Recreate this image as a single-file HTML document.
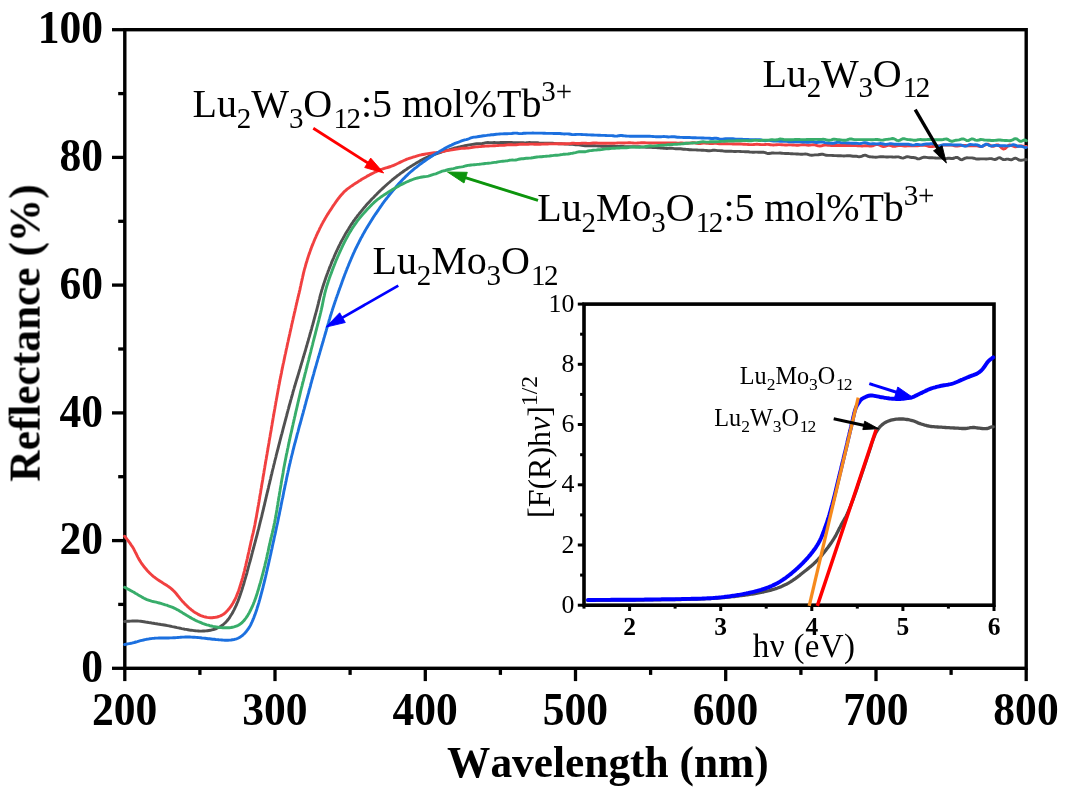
<!DOCTYPE html>
<html lang="en"><head><meta charset="utf-8"><title>Reflectance spectra</title>
<style>html,body{margin:0;padding:0;background:#fff}svg{display:block}text{font-family:"Liberation Serif","Times New Roman",serif;fill:#000;font-kerning:none;font-variant-ligatures:none}.b{font-weight:bold}</style></head><body>
<svg width="1068" height="793" viewBox="0 0 1068 793">
<defs><filter id="soft" x="0" y="0" width="100%" height="100%" filterUnits="userSpaceOnUse"><feGaussianBlur stdDeviation="0.5"/></filter></defs>
<rect width="1068" height="793" fill="#fff"/>
<g filter="url(#soft)">
<g id="axes" stroke="#000" fill="none">
<rect x="124.8" y="29.7" width="901.4" height="638.6" stroke-width="3.4"/>
<line x1="112.0" y1="668.3" x2="124.8" y2="668.3" stroke-width="3.3"/>
<line x1="118.2" y1="604.4" x2="124.8" y2="604.4" stroke-width="3.3"/>
<line x1="112.0" y1="540.6" x2="124.8" y2="540.6" stroke-width="3.3"/>
<line x1="118.2" y1="476.7" x2="124.8" y2="476.7" stroke-width="3.3"/>
<line x1="112.0" y1="412.9" x2="124.8" y2="412.9" stroke-width="3.3"/>
<line x1="118.2" y1="349.0" x2="124.8" y2="349.0" stroke-width="3.3"/>
<line x1="112.0" y1="285.1" x2="124.8" y2="285.1" stroke-width="3.3"/>
<line x1="118.2" y1="221.3" x2="124.8" y2="221.3" stroke-width="3.3"/>
<line x1="112.0" y1="157.4" x2="124.8" y2="157.4" stroke-width="3.3"/>
<line x1="118.2" y1="93.6" x2="124.8" y2="93.6" stroke-width="3.3"/>
<line x1="112.0" y1="29.7" x2="124.8" y2="29.7" stroke-width="3.3"/>
<line x1="124.8" y1="668.3" x2="124.8" y2="681.1" stroke-width="3.3"/>
<line x1="199.9" y1="668.3" x2="199.9" y2="674.9" stroke-width="3.3"/>
<line x1="275.0" y1="668.3" x2="275.0" y2="681.1" stroke-width="3.3"/>
<line x1="350.1" y1="668.3" x2="350.1" y2="674.9" stroke-width="3.3"/>
<line x1="425.3" y1="668.3" x2="425.3" y2="681.1" stroke-width="3.3"/>
<line x1="500.4" y1="668.3" x2="500.4" y2="674.9" stroke-width="3.3"/>
<line x1="575.5" y1="668.3" x2="575.5" y2="681.1" stroke-width="3.3"/>
<line x1="650.6" y1="668.3" x2="650.6" y2="674.9" stroke-width="3.3"/>
<line x1="725.7" y1="668.3" x2="725.7" y2="681.1" stroke-width="3.3"/>
<line x1="800.9" y1="668.3" x2="800.9" y2="674.9" stroke-width="3.3"/>
<line x1="876.0" y1="668.3" x2="876.0" y2="681.1" stroke-width="3.3"/>
<line x1="951.1" y1="668.3" x2="951.1" y2="674.9" stroke-width="3.3"/>
<line x1="1026.2" y1="668.3" x2="1026.2" y2="681.1" stroke-width="3.3"/>
</g>
<g id="curves">
<path d="M124.6,621.5 L126.0,621.4 L127.5,621.3 L129.1,621.2 L130.7,621.1 L132.4,621.0 L134.1,621.0 L135.8,621.0 L137.5,621.0 L139.1,621.1 L140.7,621.3 L142.3,621.5 L143.9,621.7 L145.5,622.0 L147.0,622.2 L148.6,622.5 L150.2,622.7 L151.7,623.0 L153.2,623.2 L154.8,623.5 L156.3,623.7 L157.9,624.0 L159.4,624.2 L161.0,624.5 L162.6,624.7 L164.2,625.0 L165.8,625.3 L167.4,625.6 L169.0,625.9 L170.6,626.2 L172.2,626.6 L173.8,626.9 L175.4,627.2 L177.0,627.6 L178.5,627.9 L180.1,628.2 L181.6,628.6 L183.2,628.9 L184.8,629.2 L186.3,629.4 L187.9,629.7 L189.4,630.0 L191.0,630.2 L192.5,630.4 L194.0,630.6 L195.5,630.8 L197.0,630.9 L198.4,631.0 L199.9,631.1 L201.4,631.1 L202.9,631.0 L204.4,631.0 L205.9,630.9 L207.4,630.7 L208.9,630.5 L210.4,630.3 L211.9,629.9 L213.4,629.5 L214.9,629.0 L216.5,628.5 L218.0,627.8 L219.4,627.0 L220.9,626.2 L222.2,625.3 L223.5,624.3 L224.7,623.2 L225.9,622.1 L226.9,621.0 L227.9,619.8 L228.8,618.6 L229.7,617.3 L230.5,616.0 L231.3,614.8 L232.1,613.5 L232.8,612.2 L233.5,610.9 L234.2,609.6 L234.9,608.2 L235.5,606.8 L236.2,605.4 L236.8,603.9 L237.4,602.5 L238.0,601.1 L238.5,599.7 L239.0,598.3 L239.5,596.9 L240.0,595.5 L240.5,594.0 L241.0,592.6 L241.5,591.1 L242.0,589.6 L242.5,588.0 L242.9,586.5 L243.4,585.0 L243.9,583.5 L244.3,582.0 L244.7,580.5 L245.1,579.1 L245.5,577.8 L245.9,576.4 L246.3,575.0 L246.7,573.7 L247.1,572.3 L247.4,570.9 L247.8,569.5 L248.2,568.0 L248.6,566.5 L249.0,565.0 L249.4,563.4 L249.9,561.9 L250.3,560.3 L250.7,558.8 L251.1,557.3 L251.5,555.9 L251.8,554.5 L252.2,553.1 L252.5,551.8 L252.9,550.5 L253.2,549.3 L253.6,548.0 L253.9,546.6 L254.3,545.3 L254.6,544.0 L255.0,542.6 L255.4,541.2 L255.7,539.8 L256.1,538.3 L256.5,536.8 L256.9,535.3 L257.3,533.8 L257.7,532.2 L258.1,530.6 L258.6,528.9 L259.0,527.2 L259.4,525.5 L259.8,523.9 L260.2,522.2 L260.6,520.7 L261.0,519.2 L261.3,517.7 L261.7,516.4 L262.0,515.0 L262.3,513.7 L262.6,512.4 L263.0,511.0 L263.3,509.7 L263.6,508.3 L263.9,506.9 L264.3,505.5 L264.6,504.1 L264.9,502.6 L265.3,501.2 L265.6,499.7 L266.0,498.2 L266.3,496.7 L266.7,495.2 L267.0,493.7 L267.4,492.2 L267.8,490.7 L268.1,489.1 L268.5,487.6 L268.8,486.0 L269.2,484.5 L269.6,482.9 L269.9,481.4 L270.3,479.8 L270.7,478.3 L271.0,476.7 L271.4,475.2 L271.8,473.6 L272.1,472.1 L272.5,470.5 L272.9,469.0 L273.3,467.5 L273.6,466.0 L274.0,464.5 L274.4,463.0 L274.7,461.5 L275.1,460.0 L275.5,458.5 L275.9,457.0 L276.2,455.5 L276.6,454.0 L277.0,452.4 L277.4,450.9 L277.8,449.4 L278.2,447.8 L278.6,446.2 L279.0,444.7 L279.4,443.1 L279.8,441.5 L280.2,439.9 L280.6,438.4 L281.0,436.8 L281.4,435.2 L281.9,433.6 L282.3,432.1 L282.7,430.5 L283.1,428.9 L283.5,427.4 L283.9,425.8 L284.3,424.3 L284.7,422.8 L285.1,421.3 L285.5,419.8 L285.9,418.3 L286.3,416.9 L286.7,415.4 L287.0,414.0 L287.4,412.6 L287.8,411.2 L288.1,409.9 L288.5,408.6 L288.8,407.3 L289.2,406.0 L289.5,404.7 L289.9,403.4 L290.3,402.0 L290.6,400.6 L291.1,399.1 L291.5,397.5 L292.0,395.8 L292.5,394.1 L292.9,392.4 L293.4,390.7 L293.9,389.1 L294.3,387.5 L294.8,386.1 L295.2,384.6 L295.6,383.3 L296.0,381.9 L296.4,380.6 L296.8,379.3 L297.2,378.0 L297.6,376.7 L298.0,375.4 L298.4,374.1 L298.8,372.7 L299.2,371.3 L299.6,369.9 L300.1,368.4 L300.5,367.0 L300.9,365.5 L301.4,364.0 L301.8,362.5 L302.3,361.0 L302.7,359.5 L303.1,358.0 L303.6,356.5 L304.0,355.0 L304.5,353.5 L304.9,352.0 L305.4,350.5 L305.8,349.0 L306.2,347.5 L306.7,346.0 L307.1,344.5 L307.5,343.0 L308.0,341.5 L308.4,340.0 L308.8,338.4 L309.3,336.9 L309.7,335.4 L310.1,333.8 L310.6,332.2 L311.0,330.7 L311.5,329.1 L311.9,327.5 L312.3,326.0 L312.8,324.4 L313.2,322.9 L313.6,321.4 L314.0,319.8 L314.4,318.4 L314.8,316.9 L315.2,315.4 L315.6,314.0 L316.0,312.5 L316.4,311.1 L316.8,309.6 L317.2,308.0 L317.6,306.5 L318.0,304.9 L318.4,303.3 L318.7,301.8 L319.1,300.3 L319.5,298.8 L319.8,297.4 L320.2,295.9 L320.6,294.5 L321.0,293.0 L321.4,291.6 L321.8,290.1 L322.3,288.7 L322.7,287.2 L323.2,285.8 L323.6,284.3 L324.1,282.9 L324.6,281.4 L325.1,280.0 L325.6,278.5 L326.1,277.1 L326.6,275.6 L327.1,274.2 L327.7,272.7 L328.2,271.3 L328.8,269.8 L329.3,268.4 L329.9,266.9 L330.5,265.5 L331.1,264.0 L331.6,262.6 L332.2,261.1 L332.8,259.7 L333.5,258.3 L334.1,256.8 L334.7,255.4 L335.3,254.0 L335.9,252.6 L336.6,251.2 L337.2,249.8 L337.9,248.4 L338.6,247.0 L339.2,245.6 L340.0,244.1 L340.7,242.7 L341.4,241.3 L342.2,239.9 L343.0,238.5 L343.7,237.1 L344.5,235.7 L345.2,234.4 L346.0,233.0 L346.8,231.7 L347.6,230.4 L348.5,229.0 L349.3,227.6 L350.2,226.3 L351.0,224.9 L351.9,223.6 L352.8,222.3 L353.7,220.9 L354.7,219.6 L355.6,218.3 L356.6,217.1 L357.5,215.8 L358.5,214.6 L359.5,213.3 L360.5,212.1 L361.5,210.9 L362.5,209.7 L363.5,208.4 L364.5,207.2 L365.6,206.0 L366.6,204.8 L367.7,203.6 L368.8,202.4 L369.9,201.2 L371.0,200.0 L372.1,198.8 L373.3,197.7 L374.4,196.5 L375.6,195.3 L376.7,194.2 L377.8,193.0 L379.0,191.9 L380.1,190.8 L381.2,189.7 L382.4,188.6 L383.5,187.6 L384.7,186.5 L385.8,185.5 L386.9,184.5 L388.0,183.5 L389.2,182.5 L390.3,181.5 L391.5,180.5 L392.6,179.5 L393.8,178.6 L395.0,177.6 L396.3,176.7 L397.5,175.7 L398.7,174.8 L400.0,173.8 L401.3,172.9 L402.6,172.0 L403.9,171.0 L405.2,170.1 L406.6,169.2 L407.9,168.3 L409.3,167.4 L410.7,166.5 L412.1,165.6 L413.5,164.7 L414.9,163.9 L416.3,163.0 L417.7,162.2 L419.1,161.4 L420.5,160.6 L422.0,159.8 L423.4,159.1 L424.8,158.4 L426.2,157.7 L427.6,157.1 L429.0,156.4 L430.4,155.6 L431.8,155.3 L433.2,154.8 L434.7,154.3 L436.1,153.8 L437.6,153.3 L439.1,152.9 L440.7,152.3 L442.3,151.6 L443.9,151.0 L445.5,150.5 L447.1,150.2 L448.7,149.9 L450.3,149.4 L451.9,148.9 L453.5,148.5 L455.1,148.0 L456.7,147.6 L458.3,147.2 L459.9,146.8 L461.5,146.4 L463.2,146.1 L464.8,145.8 L466.4,145.5 L467.9,145.2 L469.4,144.9 L470.9,144.6 L472.4,144.4 L473.8,144.2 L475.2,144.0 L476.6,143.8 L478.1,143.6 L479.5,143.6 L480.9,143.6 L482.3,143.5 L483.6,143.3 L485.0,142.9 L486.4,142.6 L487.9,142.5 L489.4,142.6 L490.9,142.6 L492.5,142.6 L494.2,142.5 L495.9,142.6 L497.5,142.6 L499.2,142.6 L500.7,142.5 L502.3,142.5 L503.8,142.4 L505.3,142.5 L506.9,142.5 L508.4,142.5 L510.0,142.5 L511.6,142.5 L513.2,142.6 L514.8,142.6 L516.5,142.7 L518.2,142.6 L519.8,142.6 L521.4,142.7 L523.1,142.8 L524.7,142.9 L526.3,142.8 L527.9,142.6 L529.4,142.5 L531.0,142.6 L532.6,142.6 L534.2,142.6 L535.8,142.6 L537.3,142.7 L538.9,143.0 L540.5,143.2 L542.1,143.2 L543.6,143.1 L545.1,143.1 L546.6,143.1 L548.1,143.2 L549.6,143.2 L551.1,143.3 L552.6,143.3 L554.1,143.4 L555.6,143.5 L557.1,143.6 L558.6,143.7 L560.2,143.7 L561.7,143.8 L563.2,143.9 L564.8,144.0 L566.3,144.1 L567.9,144.1 L569.4,144.2 L571.0,144.3 L572.5,144.4 L574.1,144.6 L575.6,144.7 L577.2,144.7 L578.7,144.7 L580.3,145.0 L581.8,145.3 L583.4,145.6 L585.0,145.7 L586.6,145.6 L588.2,145.7 L589.8,145.7 L591.5,145.8 L593.2,145.8 L594.8,145.8 L596.5,145.9 L598.2,146.0 L599.8,146.1 L601.4,146.2 L602.9,146.2 L604.5,146.3 L605.9,146.3 L607.4,146.4 L608.8,146.4 L610.2,146.3 L611.6,146.2 L613.0,146.2 L614.4,146.3 L615.9,146.4 L617.4,146.4 L618.9,146.4 L620.4,146.3 L621.8,146.3 L623.1,146.4 L624.5,146.6 L625.8,146.6 L627.2,146.6 L628.6,146.6 L630.0,146.6 L631.5,146.7 L633.0,146.8 L634.6,146.7 L636.2,146.6 L637.8,146.6 L639.5,146.7 L641.1,146.9 L642.8,147.1 L644.5,147.1 L646.2,147.2 L647.9,147.3 L649.6,147.4 L651.2,147.4 L652.9,147.5 L654.5,147.5 L656.1,147.6 L657.7,147.7 L659.2,147.9 L660.8,148.0 L662.3,148.1 L663.8,148.2 L665.3,148.4 L666.9,148.5 L668.4,148.4 L669.9,148.3 L671.4,148.2 L672.9,148.4 L674.4,148.6 L675.9,148.8 L677.4,148.8 L678.9,148.7 L680.5,148.8 L682.0,149.0 L683.5,149.2 L685.0,149.3 L686.5,149.4 L688.0,149.5 L689.5,149.7 L691.0,149.8 L692.6,149.9 L694.1,149.9 L695.6,149.9 L697.1,150.0 L698.6,150.1 L700.2,150.1 L701.7,150.2 L703.3,150.3 L704.9,150.4 L706.5,150.5 L708.1,150.7 L709.7,150.7 L711.3,150.6 L712.9,150.3 L714.5,150.3 L716.1,150.4 L717.7,150.6 L719.3,150.6 L720.9,150.7 L722.5,150.8 L724.0,151.1 L725.6,151.3 L727.1,151.3 L728.5,151.2 L730.0,151.1 L731.4,151.2 L732.8,151.4 L734.2,151.5 L735.7,151.5 L737.1,151.4 L738.7,151.4 L740.3,151.5 L741.9,151.6 L743.5,151.6 L745.1,151.7 L746.7,151.7 L748.2,151.8 L749.7,152.0 L751.2,152.1 L752.6,152.2 L754.0,152.2 L755.4,152.1 L756.9,152.1 L758.3,152.2 L759.8,152.2 L761.2,152.2 L762.5,152.2 L763.9,152.3 L765.2,152.7 L766.5,153.2 L767.8,153.5 L769.1,153.5 L770.5,153.3 L771.9,153.0 L773.4,153.0 L774.9,153.1 L776.5,153.1 L778.2,153.1 L780.0,153.0 L781.8,153.2 L783.5,153.4 L785.2,153.5 L786.8,153.5 L788.3,153.5 L789.7,153.6 L791.0,153.7 L792.4,153.8 L793.7,153.9 L795.1,153.9 L796.5,154.0 L797.9,154.0 L799.3,154.1 L800.8,154.2 L802.3,154.2 L803.8,154.1 L805.3,154.0 L806.9,154.1 L808.5,154.6 L810.1,155.1 L811.7,155.2 L813.3,155.1 L814.9,154.9 L816.5,154.9 L818.2,154.8 L819.8,154.5 L821.5,154.2 L823.1,154.3 L824.8,154.8 L826.4,155.3 L828.0,155.4 L829.7,155.4 L831.3,155.4 L832.9,155.5 L834.5,155.6 L836.1,155.6 L837.7,155.7 L839.3,155.7 L840.8,155.8 L842.4,155.9 L843.9,156.0 L845.4,155.9 L846.9,155.8 L848.5,155.7 L850.0,155.8 L851.5,156.0 L853.0,156.2 L854.5,156.2 L856.1,156.2 L857.6,156.5 L859.1,156.7 L860.6,156.6 L862.1,156.1 L863.6,155.4 L865.1,155.2 L866.7,155.7 L868.2,156.4 L869.7,156.8 L871.2,156.9 L872.7,157.0 L874.2,157.1 L875.8,157.2 L877.3,157.1 L878.8,156.9 L880.3,156.7 L881.8,156.7 L883.3,156.8 L884.8,156.9 L886.4,157.0 L887.9,157.0 L889.4,156.9 L890.9,156.9 L892.4,157.0 L893.9,157.1 L895.5,157.0 L897.0,156.9 L898.5,156.9 L900.0,157.3 L901.5,157.9 L903.0,158.1 L904.5,157.7 L905.9,157.0 L907.4,156.7 L908.9,156.9 L910.3,157.3 L911.8,157.5 L913.3,157.5 L914.7,157.7 L916.2,158.2 L917.6,158.8 L919.1,158.9 L920.5,158.4 L922.0,157.7 L923.4,157.3 L924.9,157.2 L926.4,157.4 L927.9,157.6 L929.3,157.7 L930.8,157.7 L932.3,157.8 L933.8,157.9 L935.4,158.0 L936.9,158.1 L938.4,158.0 L940.0,157.9 L941.6,158.0 L943.2,158.3 L944.8,158.7 L946.4,158.6 L948.0,158.3 L949.6,158.2 L951.2,158.5 L952.8,158.5 L954.4,158.0 L956.0,157.4 L957.5,157.5 L959.1,158.5 L960.6,159.6 L962.1,159.7 L963.7,158.9 L965.3,158.1 L967.0,157.8 L968.6,157.9 L970.3,157.9 L972.0,157.9 L973.7,158.2 L975.4,158.7 L977.2,159.0 L979.0,159.0 L980.7,158.9 L982.5,158.9 L984.3,158.9 L986.1,159.0 L987.8,158.9 L989.6,158.6 L991.4,158.6 L993.1,159.1 L994.9,159.5 L996.6,159.0 L998.3,157.9 L1000.0,157.7 L1001.7,158.7 L1003.4,159.6 L1005.0,159.6 L1006.6,159.1 L1008.2,159.1 L1009.7,159.6 L1011.2,159.8 L1012.6,159.3 L1014.1,158.5 L1015.4,158.2 L1016.8,158.6 L1018.0,159.4 L1019.3,160.1 L1020.4,160.3 L1021.5,160.3 L1022.6,160.1 L1023.6,159.9 L1024.6,159.8 L1025.5,159.8 L1026.4,159.8" fill="none" stroke="#515151" stroke-width="2.9" stroke-linejoin="round" stroke-linecap="round"/>
<path d="M124.6,536.2 L125.4,537.3 L126.3,538.3 L127.2,539.5 L128.1,540.7 L129.1,542.0 L130.1,543.4 L131.0,544.8 L132.0,546.2 L132.9,547.5 L133.7,548.9 L134.4,550.3 L135.1,551.7 L135.8,553.0 L136.5,554.4 L137.1,555.8 L137.8,557.1 L138.6,558.5 L139.3,559.9 L140.2,561.2 L141.0,562.5 L141.9,563.8 L142.9,565.2 L143.9,566.5 L144.9,567.7 L146.0,569.0 L147.0,570.2 L148.1,571.4 L149.2,572.6 L150.4,573.7 L151.5,574.8 L152.7,575.9 L153.9,576.9 L155.2,577.8 L156.4,578.7 L157.7,579.6 L159.0,580.5 L160.2,581.3 L161.5,582.1 L162.8,582.9 L164.0,583.7 L165.3,584.5 L166.6,585.3 L167.8,586.1 L169.1,587.0 L170.3,587.9 L171.5,588.9 L172.6,589.9 L173.8,591.0 L174.8,592.1 L175.9,593.3 L176.9,594.5 L177.9,595.8 L179.0,597.1 L180.0,598.4 L181.0,599.6 L182.1,600.9 L183.2,602.1 L184.3,603.3 L185.4,604.4 L186.6,605.5 L187.7,606.6 L188.9,607.7 L190.0,608.7 L191.2,609.7 L192.5,610.6 L193.7,611.6 L195.0,612.5 L196.4,613.3 L197.8,614.1 L199.3,614.9 L200.8,615.6 L202.3,616.1 L203.8,616.6 L205.4,617.0 L207.1,617.4 L208.7,617.6 L210.4,617.7 L212.1,617.7 L213.8,617.5 L215.5,617.3 L217.1,617.0 L218.8,616.5 L220.4,615.9 L222.0,615.1 L223.4,614.2 L224.8,613.2 L226.1,612.1 L227.3,610.8 L228.4,609.5 L229.5,608.2 L230.5,606.8 L231.5,605.5 L232.4,604.1 L233.2,602.7 L234.0,601.2 L234.8,599.8 L235.5,598.3 L236.2,596.8 L236.8,595.3 L237.4,593.8 L238.0,592.3 L238.6,590.7 L239.1,589.2 L239.6,587.6 L240.1,586.0 L240.6,584.4 L241.1,582.8 L241.6,581.2 L242.0,579.7 L242.5,578.1 L242.9,576.6 L243.3,575.1 L243.7,573.6 L244.1,572.1 L244.5,570.6 L244.8,569.1 L245.2,567.5 L245.6,566.0 L245.9,564.5 L246.3,562.9 L246.7,561.4 L247.0,559.8 L247.4,558.3 L247.7,556.7 L248.1,555.2 L248.4,553.6 L248.8,552.0 L249.1,550.5 L249.5,548.9 L249.8,547.3 L250.2,545.7 L250.5,544.2 L250.8,542.7 L251.1,541.3 L251.5,539.9 L251.8,538.6 L252.0,537.4 L252.3,536.2 L252.6,535.0 L252.9,533.8 L253.2,532.6 L253.5,531.2 L253.8,529.8 L254.2,528.2 L254.5,526.5 L254.9,524.8 L255.2,523.0 L255.5,521.3 L255.8,519.7 L256.1,518.2 L256.4,516.9 L256.6,515.5 L256.8,514.3 L257.0,513.0 L257.3,511.7 L257.5,510.4 L257.7,509.0 L258.0,507.6 L258.2,506.2 L258.5,504.8 L258.7,503.3 L259.0,501.8 L259.2,500.3 L259.5,498.7 L259.7,497.2 L260.0,495.6 L260.3,494.0 L260.6,492.4 L260.8,490.8 L261.1,489.1 L261.4,487.5 L261.6,485.9 L261.9,484.2 L262.2,482.6 L262.5,480.9 L262.8,479.2 L263.0,477.6 L263.3,475.9 L263.6,474.3 L263.9,472.7 L264.1,471.0 L264.4,469.4 L264.7,467.8 L264.9,466.2 L265.2,464.7 L265.5,463.1 L265.7,461.6 L266.0,460.0 L266.3,458.5 L266.5,456.9 L266.8,455.4 L267.1,453.8 L267.3,452.3 L267.6,450.7 L267.9,449.1 L268.1,447.5 L268.4,445.9 L268.7,444.3 L269.0,442.7 L269.2,441.0 L269.5,439.4 L269.8,437.8 L270.1,436.2 L270.3,434.6 L270.6,433.0 L270.9,431.4 L271.2,429.8 L271.4,428.2 L271.7,426.6 L272.0,425.0 L272.2,423.4 L272.5,421.9 L272.8,420.4 L273.0,418.8 L273.3,417.3 L273.5,415.9 L273.8,414.4 L274.0,413.0 L274.3,411.6 L274.5,410.2 L274.8,408.8 L275.0,407.5 L275.2,406.1 L275.5,404.8 L275.7,403.5 L275.9,402.1 L276.2,400.7 L276.5,399.1 L276.8,397.5 L277.1,395.8 L277.4,394.1 L277.7,392.4 L278.0,390.7 L278.3,389.1 L278.6,387.5 L278.8,386.1 L279.1,384.6 L279.4,383.3 L279.6,381.9 L279.9,380.6 L280.1,379.3 L280.4,378.0 L280.7,376.7 L280.9,375.4 L281.2,374.1 L281.5,372.7 L281.7,371.3 L282.0,369.9 L282.3,368.4 L282.6,367.0 L282.9,365.5 L283.2,364.0 L283.6,362.5 L283.9,361.0 L284.2,359.5 L284.5,358.0 L284.8,356.5 L285.1,355.0 L285.5,353.5 L285.8,352.0 L286.1,350.5 L286.4,349.0 L286.8,347.5 L287.1,346.0 L287.4,344.5 L287.7,343.0 L288.1,341.5 L288.4,340.0 L288.7,338.4 L289.1,336.9 L289.4,335.4 L289.8,333.8 L290.1,332.2 L290.5,330.7 L290.8,329.1 L291.2,327.5 L291.5,326.0 L291.8,324.4 L292.2,322.9 L292.5,321.4 L292.9,319.8 L293.2,318.4 L293.5,316.9 L293.9,315.4 L294.2,314.0 L294.5,312.5 L294.9,311.1 L295.2,309.6 L295.6,308.0 L295.9,306.5 L296.3,304.9 L296.6,303.4 L297.0,301.9 L297.3,300.4 L297.7,298.9 L298.0,297.4 L298.4,296.0 L298.7,294.5 L299.1,293.1 L299.4,291.6 L299.8,290.1 L300.1,288.6 L300.4,287.0 L300.8,285.5 L301.1,284.0 L301.4,282.5 L301.8,280.9 L302.1,279.4 L302.5,277.8 L302.8,276.3 L303.2,274.7 L303.5,273.1 L303.9,271.6 L304.3,270.0 L304.7,268.5 L305.2,266.9 L305.6,265.4 L306.0,263.8 L306.5,262.3 L307.0,260.7 L307.4,259.2 L307.9,257.7 L308.4,256.1 L308.9,254.6 L309.5,253.1 L310.0,251.6 L310.5,250.1 L311.1,248.6 L311.6,247.1 L312.2,245.6 L312.8,244.1 L313.4,242.7 L314.0,241.2 L314.6,239.7 L315.2,238.3 L315.9,236.8 L316.5,235.4 L317.2,233.9 L317.8,232.5 L318.5,231.2 L319.2,229.8 L319.8,228.4 L320.5,227.1 L321.2,225.7 L321.9,224.3 L322.7,222.9 L323.4,221.5 L324.2,220.2 L325.0,218.8 L325.8,217.4 L326.6,216.1 L327.4,214.7 L328.3,213.4 L329.1,212.1 L330.0,210.7 L330.9,209.4 L331.8,208.0 L332.6,206.7 L333.5,205.4 L334.5,204.0 L335.4,202.7 L336.3,201.3 L337.3,200.0 L338.2,198.7 L339.2,197.5 L340.2,196.2 L341.2,195.0 L342.2,193.9 L343.3,192.7 L344.3,191.6 L345.5,190.6 L346.6,189.6 L347.8,188.7 L349.0,187.8 L350.2,186.9 L351.4,186.1 L352.7,185.2 L353.9,184.4 L355.2,183.5 L356.5,182.7 L357.8,181.9 L359.1,181.0 L360.5,180.2 L361.8,179.3 L363.2,178.5 L364.6,177.7 L366.0,176.9 L367.3,176.1 L368.7,175.4 L370.1,174.6 L371.5,173.9 L372.9,173.2 L374.3,172.5 L375.7,171.8 L377.1,171.2 L378.5,170.6 L379.9,170.0 L381.4,169.5 L382.9,168.9 L384.4,168.4 L386.0,167.9 L387.5,167.5 L389.1,167.0 L390.7,166.5 L392.2,165.9 L393.7,165.3 L395.2,164.7 L396.6,164.0 L398.1,163.3 L399.5,162.6 L400.9,161.9 L402.4,161.2 L403.9,160.5 L405.4,159.9 L407.0,159.2 L408.5,158.7 L410.1,158.1 L411.7,157.6 L413.3,157.0 L414.9,156.6 L416.5,156.1 L418.1,155.6 L419.7,155.2 L421.4,154.8 L423.0,154.5 L424.6,154.2 L426.2,153.9 L427.8,153.6 L429.4,153.4 L431.0,153.2 L432.6,153.0 L434.2,152.8 L435.8,152.6 L437.4,152.4 L439.0,152.2 L440.6,151.9 L442.2,151.6 L443.9,151.3 L445.5,150.9 L447.1,150.6 L448.7,150.4 L450.3,150.1 L451.9,149.9 L453.5,149.6 L455.1,149.3 L456.7,149.1 L458.3,148.9 L459.9,148.6 L461.6,148.4 L463.2,148.3 L464.8,148.2 L466.4,148.1 L468.0,148.1 L469.6,147.9 L471.2,147.6 L472.8,147.3 L474.4,147.1 L476.1,146.9 L477.7,146.8 L479.3,146.6 L480.9,146.5 L482.4,146.3 L483.9,146.2 L485.4,146.1 L487.0,146.0 L488.5,146.0 L490.1,145.9 L491.7,145.9 L493.3,145.8 L494.9,145.7 L496.5,145.6 L498.1,145.5 L499.6,145.4 L501.2,145.4 L502.7,145.4 L504.2,145.3 L505.7,145.1 L507.2,144.9 L508.7,144.7 L510.3,144.7 L511.8,144.8 L513.3,144.9 L514.8,144.9 L516.3,144.8 L517.8,144.6 L519.3,144.4 L520.8,144.2 L522.3,144.2 L523.8,144.3 L525.4,144.4 L526.9,144.4 L528.4,144.2 L529.9,144.1 L531.4,144.1 L532.9,144.1 L534.4,144.2 L536.0,144.2 L537.5,144.3 L538.9,144.2 L540.4,144.2 L541.9,144.1 L543.4,144.1 L544.8,144.0 L546.3,144.0 L547.7,144.0 L549.2,143.9 L550.7,143.9 L552.2,143.9 L553.7,143.9 L555.3,143.8 L556.8,143.8 L558.4,143.8 L559.9,143.7 L561.4,143.7 L562.9,143.7 L564.4,143.8 L565.9,143.8 L567.5,143.7 L569.0,143.6 L570.6,143.5 L572.2,143.3 L573.8,143.3 L575.4,143.4 L577.0,143.5 L578.6,143.5 L580.2,143.4 L581.7,143.2 L583.3,143.1 L584.9,143.1 L586.6,143.3 L588.2,143.4 L589.8,143.4 L591.5,143.2 L593.2,143.0 L594.8,142.9 L596.5,143.0 L598.2,143.1 L599.8,143.2 L601.4,143.2 L602.9,143.2 L604.5,143.2 L605.9,143.2 L607.4,143.2 L608.8,143.2 L610.2,143.2 L611.6,143.2 L613.0,143.2 L614.4,143.2 L615.9,143.1 L617.4,143.0 L618.9,142.9 L620.4,142.9 L621.8,142.9 L623.1,143.0 L624.5,143.0 L625.8,142.9 L627.2,142.9 L628.6,142.8 L630.0,142.8 L631.5,142.9 L633.0,143.0 L634.6,143.1 L636.2,143.1 L637.8,143.0 L639.5,142.9 L641.1,142.8 L642.8,142.8 L644.5,142.8 L646.2,142.9 L647.9,142.9 L649.6,143.0 L651.2,143.0 L652.9,143.0 L654.5,143.0 L656.1,142.9 L657.7,142.9 L659.2,142.9 L660.8,142.9 L662.3,142.9 L663.8,142.9 L665.3,142.9 L666.9,142.9 L668.4,142.9 L669.9,142.9 L671.4,142.9 L672.9,143.0 L674.4,143.0 L675.9,143.0 L677.4,143.1 L678.9,143.1 L680.5,143.0 L682.0,143.0 L683.5,143.1 L685.0,143.2 L686.5,143.3 L688.0,143.2 L689.5,143.1 L691.0,142.9 L692.6,142.7 L694.1,142.7 L695.6,143.0 L697.1,143.3 L698.6,143.5 L700.2,143.5 L701.7,143.3 L703.3,143.1 L704.9,143.0 L706.5,143.2 L708.1,143.4 L709.7,143.6 L711.3,143.6 L712.9,143.5 L714.5,143.4 L716.1,143.4 L717.7,143.5 L719.3,143.7 L720.9,143.8 L722.5,143.9 L724.0,143.8 L725.6,143.8 L727.1,143.8 L728.5,143.9 L730.0,143.9 L731.4,143.9 L732.8,144.0 L734.2,144.0 L735.7,144.0 L737.1,144.0 L738.7,144.0 L740.3,144.0 L741.9,144.1 L743.5,144.2 L745.1,144.3 L746.7,144.4 L748.2,144.5 L749.7,144.6 L751.2,144.6 L752.6,144.6 L754.0,144.5 L755.4,144.4 L756.9,144.3 L758.3,144.4 L759.8,144.5 L761.2,144.6 L762.5,144.6 L763.9,144.6 L765.2,144.5 L766.5,144.4 L767.8,144.4 L769.1,144.5 L770.5,144.7 L771.9,144.9 L773.4,145.0 L774.9,144.9 L776.5,144.7 L778.2,144.6 L780.0,144.6 L781.8,144.7 L783.5,144.9 L785.2,145.0 L786.8,145.0 L788.3,144.9 L789.7,144.9 L791.0,144.9 L792.4,145.0 L793.7,145.0 L795.1,145.1 L796.5,145.2 L797.9,145.2 L799.3,145.1 L800.8,144.9 L802.3,144.8 L803.8,144.7 L805.3,144.9 L806.9,145.1 L808.5,145.2 L810.1,145.1 L811.7,144.9 L813.3,144.8 L814.9,144.9 L816.5,145.4 L818.2,145.9 L819.8,146.0 L821.5,145.9 L823.1,145.4 L824.8,145.1 L826.4,145.0 L828.0,145.2 L829.7,145.4 L831.3,145.6 L832.9,145.5 L834.5,145.5 L836.1,145.4 L837.7,145.5 L839.3,145.5 L840.8,145.5 L842.4,145.5 L843.9,145.5 L845.4,145.5 L846.9,145.5 L848.5,145.5 L850.0,145.5 L851.5,145.5 L853.0,145.5 L854.5,145.5 L856.1,145.6 L857.6,145.7 L859.1,145.8 L860.6,145.9 L862.1,146.0 L863.6,145.9 L865.1,145.8 L866.7,145.7 L868.2,145.8 L869.7,146.0 L871.2,146.0 L872.7,145.8 L874.2,145.2 L875.8,144.6 L877.3,144.4 L878.8,144.8 L880.3,145.5 L881.8,146.2 L883.3,146.6 L884.8,146.3 L886.4,145.8 L887.9,145.3 L889.4,145.3 L890.9,145.7 L892.4,146.2 L893.9,146.4 L895.5,146.2 L897.0,145.8 L898.5,145.5 L900.0,145.5 L901.5,145.6 L903.0,145.8 L904.5,146.0 L905.9,146.0 L907.4,145.9 L908.9,145.8 L910.3,145.7 L911.8,145.7 L913.3,145.7 L914.7,145.7 L916.2,145.7 L917.6,145.7 L919.1,145.6 L920.5,145.4 L922.0,145.2 L923.4,145.1 L924.9,145.3 L926.4,145.7 L927.9,146.1 L929.3,146.5 L930.8,146.6 L932.3,146.5 L933.8,146.3 L935.4,146.2 L936.9,146.0 L938.4,145.9 L940.0,145.7 L941.6,145.4 L943.2,145.1 L944.8,145.1 L946.4,145.1 L948.0,145.1 L949.6,145.1 L951.2,145.1 L952.8,145.4 L954.4,145.7 L956.0,146.0 L957.5,146.0 L959.1,145.9 L960.6,145.6 L962.1,145.4 L963.7,145.4 L965.3,145.5 L967.0,145.7 L968.6,145.8 L970.3,145.8 L972.0,145.8 L973.7,145.7 L975.4,145.7 L977.2,145.9 L979.0,146.2 L980.7,146.5 L982.5,146.2 L984.3,145.4 L986.1,144.4 L987.8,144.2 L989.6,145.0 L991.4,146.0 L993.1,146.4 L994.9,145.8 L996.6,144.9 L998.3,145.0 L1000.0,146.3 L1001.7,148.1 L1003.4,149.1 L1005.0,148.6 L1006.6,147.1 L1008.2,145.6 L1009.7,144.9 L1011.2,145.2 L1012.6,145.9 L1014.1,146.5 L1015.4,146.7 L1016.8,146.5 L1018.0,146.2 L1019.3,146.0 L1020.4,145.9 L1021.5,146.0 L1022.6,146.2 L1023.6,146.3 L1024.6,146.5 L1025.5,146.5 L1026.4,146.5" fill="none" stroke="#F14040" stroke-width="2.9" stroke-linejoin="round" stroke-linecap="round"/>
<path d="M124.6,644.5 L126.2,644.2 L127.8,643.9 L129.5,643.6 L131.1,643.3 L132.7,642.9 L134.3,642.5 L135.9,642.0 L137.4,641.6 L139.0,641.1 L140.5,640.7 L142.0,640.3 L143.5,640.0 L145.0,639.6 L146.5,639.3 L148.0,639.1 L149.5,638.8 L151.1,638.6 L152.7,638.4 L154.2,638.3 L155.8,638.1 L157.4,638.1 L159.0,638.0 L160.6,638.0 L162.2,638.0 L163.9,638.0 L165.5,638.0 L167.1,638.0 L168.7,638.0 L170.2,637.9 L171.8,637.9 L173.4,637.8 L174.9,637.7 L176.4,637.6 L177.9,637.5 L179.5,637.4 L180.9,637.2 L182.4,637.1 L183.9,637.1 L185.4,637.0 L186.9,637.0 L188.4,637.0 L189.9,637.0 L191.4,637.1 L193.0,637.2 L194.5,637.3 L196.0,637.4 L197.5,637.5 L199.0,637.6 L200.5,637.8 L202.0,638.0 L203.5,638.1 L205.0,638.3 L206.6,638.5 L208.1,638.7 L209.6,638.8 L211.1,639.0 L212.7,639.2 L214.2,639.3 L215.7,639.5 L217.3,639.6 L218.8,639.8 L220.4,639.9 L221.9,640.0 L223.4,640.1 L224.9,640.2 L226.5,640.2 L228.0,640.2 L229.5,640.1 L231.0,640.0 L232.5,639.8 L233.9,639.6 L235.3,639.2 L236.7,638.8 L238.0,638.2 L239.4,637.5 L240.7,636.7 L241.9,635.8 L243.1,634.8 L244.3,633.7 L245.4,632.5 L246.5,631.2 L247.5,629.9 L248.4,628.6 L249.3,627.2 L250.1,625.9 L250.8,624.6 L251.4,623.2 L252.1,621.8 L252.7,620.4 L253.3,618.9 L253.9,617.5 L254.4,616.0 L255.0,614.6 L255.5,613.1 L256.0,611.7 L256.5,610.2 L257.0,608.7 L257.4,607.2 L257.9,605.7 L258.4,604.1 L258.9,602.6 L259.3,601.0 L259.8,599.4 L260.2,597.9 L260.6,596.3 L261.0,594.8 L261.4,593.4 L261.8,591.9 L262.2,590.4 L262.6,588.9 L263.0,587.4 L263.3,585.9 L263.7,584.3 L264.1,582.8 L264.5,581.2 L264.9,579.7 L265.2,578.1 L265.6,576.6 L265.9,575.1 L266.3,573.6 L266.6,572.1 L267.0,570.7 L267.3,569.3 L267.6,567.8 L267.9,566.4 L268.3,565.0 L268.6,563.5 L268.9,562.1 L269.2,560.6 L269.6,559.1 L269.9,557.6 L270.2,556.1 L270.6,554.6 L270.9,553.1 L271.2,551.6 L271.5,550.2 L271.9,548.8 L272.2,547.4 L272.4,546.1 L272.7,544.8 L273.0,543.5 L273.3,542.2 L273.6,540.9 L273.9,539.6 L274.1,538.3 L274.4,537.0 L274.7,535.6 L275.1,534.1 L275.4,532.6 L275.7,531.1 L276.1,529.4 L276.4,527.7 L276.8,526.0 L277.2,524.2 L277.6,522.5 L277.9,520.9 L278.2,519.4 L278.5,517.9 L278.8,516.5 L279.1,515.2 L279.4,513.9 L279.6,512.5 L279.9,511.2 L280.2,509.8 L280.5,508.4 L280.8,507.0 L281.0,505.6 L281.3,504.1 L281.6,502.7 L281.9,501.2 L282.2,499.6 L282.6,498.1 L282.9,496.6 L283.2,495.0 L283.5,493.4 L283.8,491.8 L284.1,490.3 L284.5,488.7 L284.8,487.0 L285.1,485.4 L285.5,483.8 L285.8,482.2 L286.2,480.6 L286.5,479.0 L286.8,477.3 L287.2,475.7 L287.5,474.1 L287.9,472.5 L288.2,470.9 L288.6,469.3 L288.9,467.7 L289.3,466.2 L289.6,464.6 L290.0,463.1 L290.3,461.6 L290.7,460.0 L291.1,458.5 L291.4,457.0 L291.8,455.5 L292.2,454.0 L292.6,452.4 L292.9,450.9 L293.3,449.4 L293.7,447.8 L294.1,446.2 L294.5,444.7 L294.9,443.1 L295.4,441.5 L295.8,439.9 L296.2,438.4 L296.6,436.8 L297.0,435.2 L297.4,433.6 L297.9,432.1 L298.3,430.5 L298.7,428.9 L299.1,427.4 L299.5,425.8 L300.0,424.3 L300.4,422.8 L300.8,421.3 L301.2,419.8 L301.6,418.3 L302.0,416.9 L302.4,415.4 L302.8,414.0 L303.2,412.6 L303.5,411.2 L303.9,409.9 L304.3,408.6 L304.6,407.3 L305.0,406.0 L305.3,404.7 L305.7,403.4 L306.0,402.0 L306.4,400.6 L306.8,399.1 L307.3,397.5 L307.7,395.8 L308.2,394.1 L308.7,392.4 L309.1,390.7 L309.5,389.1 L310.0,387.5 L310.4,386.1 L310.7,384.6 L311.1,383.3 L311.5,381.9 L311.8,380.6 L312.2,379.3 L312.6,378.0 L312.9,376.7 L313.3,375.4 L313.7,374.1 L314.0,372.7 L314.4,371.3 L314.8,369.9 L315.2,368.4 L315.7,367.0 L316.1,365.5 L316.5,364.0 L316.9,362.5 L317.4,361.0 L317.8,359.5 L318.2,358.0 L318.7,356.5 L319.1,355.0 L319.6,353.5 L320.0,352.0 L320.4,350.5 L320.9,349.0 L321.3,347.5 L321.7,346.0 L322.2,344.5 L322.6,343.0 L323.1,341.5 L323.5,340.0 L323.9,338.4 L324.4,336.9 L324.8,335.4 L325.3,333.8 L325.7,332.2 L326.2,330.7 L326.6,329.1 L327.1,327.5 L327.6,326.0 L328.0,324.4 L328.5,322.9 L328.9,321.4 L329.3,319.8 L329.8,318.4 L330.2,316.9 L330.6,315.4 L331.1,314.0 L331.5,312.6 L332.0,311.1 L332.4,309.7 L332.9,308.2 L333.4,306.7 L333.9,305.2 L334.4,303.7 L334.9,302.2 L335.4,300.8 L335.9,299.4 L336.3,298.0 L336.8,296.7 L337.3,295.3 L337.8,294.0 L338.3,292.6 L338.7,291.3 L339.2,289.9 L339.7,288.5 L340.3,287.0 L340.8,285.6 L341.3,284.2 L341.8,282.7 L342.3,281.3 L342.8,279.9 L343.3,278.5 L343.9,277.1 L344.4,275.6 L344.9,274.2 L345.5,272.8 L346.0,271.4 L346.6,270.0 L347.1,268.6 L347.7,267.2 L348.3,265.8 L348.8,264.4 L349.4,263.0 L350.0,261.6 L350.6,260.2 L351.2,258.8 L351.8,257.4 L352.4,256.0 L353.0,254.6 L353.6,253.2 L354.3,251.8 L354.9,250.4 L355.6,248.9 L356.3,247.5 L357.0,246.1 L357.7,244.7 L358.4,243.3 L359.1,241.9 L359.8,240.5 L360.5,239.1 L361.2,237.7 L362.0,236.4 L362.7,235.0 L363.5,233.6 L364.3,232.2 L365.1,230.8 L365.9,229.4 L366.7,228.0 L367.6,226.6 L368.4,225.2 L369.2,223.9 L370.1,222.5 L370.9,221.2 L371.8,219.8 L372.7,218.4 L373.5,217.1 L374.4,215.7 L375.3,214.3 L376.3,213.0 L377.2,211.6 L378.1,210.3 L379.0,209.0 L379.9,207.7 L380.8,206.4 L381.6,205.2 L382.5,203.9 L383.4,202.7 L384.2,201.5 L385.1,200.4 L386.0,199.2 L387.0,198.0 L387.9,196.8 L388.9,195.5 L389.9,194.3 L390.9,193.1 L391.9,191.9 L392.9,190.6 L394.0,189.4 L395.1,188.1 L396.1,186.8 L397.2,185.6 L398.3,184.3 L399.4,183.1 L400.5,181.9 L401.6,180.7 L402.7,179.5 L403.9,178.4 L405.0,177.2 L406.1,176.1 L407.2,175.1 L408.3,174.0 L409.4,173.0 L410.5,172.0 L411.6,171.1 L412.8,170.1 L413.9,169.2 L415.1,168.2 L416.3,167.3 L417.5,166.3 L418.7,165.4 L419.9,164.4 L421.2,163.5 L422.5,162.6 L423.7,161.7 L425.0,160.8 L426.4,159.8 L427.7,158.9 L429.1,158.0 L430.4,157.0 L431.8,156.2 L433.2,155.3 L434.6,154.4 L436.0,153.5 L437.4,152.7 L438.8,151.9 L440.2,151.0 L441.6,150.3 L443.1,149.4 L444.5,148.6 L445.9,147.8 L447.3,147.0 L448.7,146.3 L450.1,145.7 L451.5,145.1 L452.9,144.4 L454.3,143.7 L455.7,143.1 L457.2,142.6 L458.6,142.1 L460.1,141.5 L461.6,140.9 L463.2,140.4 L464.7,139.9 L466.3,139.6 L467.9,139.1 L469.5,138.5 L471.0,137.8 L472.6,137.4 L474.1,137.1 L475.7,137.0 L477.3,136.8 L478.9,136.5 L480.5,136.3 L482.0,136.0 L483.6,135.8 L485.2,135.6 L486.7,135.4 L488.3,135.1 L489.8,135.0 L491.4,134.8 L493.0,134.7 L494.7,134.5 L496.3,134.3 L497.9,134.1 L499.5,134.0 L501.0,133.9 L502.6,133.9 L504.1,133.8 L505.6,133.8 L507.1,133.7 L508.6,133.6 L510.1,133.6 L511.7,133.5 L513.2,133.3 L514.7,133.1 L516.2,133.1 L517.8,133.3 L519.3,133.6 L520.8,133.6 L522.3,133.5 L523.8,133.3 L525.4,133.2 L526.9,133.1 L528.4,133.1 L529.9,133.1 L531.4,133.1 L532.9,133.0 L534.4,133.1 L536.0,133.1 L537.5,133.1 L538.9,133.1 L540.4,133.1 L541.9,133.1 L543.4,133.2 L544.8,133.3 L546.3,133.4 L547.7,133.4 L549.2,133.4 L550.7,133.4 L552.2,133.4 L553.7,133.5 L555.3,133.5 L556.8,133.5 L558.4,133.5 L559.9,133.5 L561.4,133.7 L562.9,133.9 L564.4,134.0 L565.9,133.9 L567.5,133.9 L569.0,134.0 L570.6,134.3 L572.2,134.6 L573.8,134.6 L575.4,134.5 L577.0,134.4 L578.6,134.4 L580.2,134.4 L581.7,134.5 L583.3,134.6 L584.9,134.6 L586.6,134.7 L588.2,134.9 L589.8,134.9 L591.5,135.0 L593.2,135.0 L594.8,135.1 L596.5,135.1 L598.2,135.2 L599.8,135.3 L601.4,135.4 L602.9,135.4 L604.5,135.4 L605.9,135.5 L607.4,135.6 L608.8,135.6 L610.2,135.6 L611.6,135.6 L613.0,135.8 L614.4,136.0 L615.9,136.1 L617.4,136.0 L618.9,135.7 L620.4,135.5 L621.8,135.5 L623.1,135.7 L624.5,135.9 L625.8,136.0 L627.2,136.1 L628.6,136.1 L630.0,136.2 L631.5,136.2 L633.0,136.2 L634.6,136.2 L636.2,136.2 L637.8,136.2 L639.5,136.2 L641.1,136.3 L642.8,136.3 L644.5,136.3 L646.2,136.3 L647.9,136.3 L649.6,136.3 L651.2,136.4 L652.9,136.5 L654.5,136.6 L656.1,136.7 L657.7,136.8 L659.2,136.8 L660.8,136.8 L662.3,136.6 L663.8,136.5 L665.3,136.6 L666.9,136.8 L668.4,137.0 L669.9,136.9 L671.4,136.8 L672.9,136.7 L674.4,136.8 L675.9,137.0 L677.4,137.2 L678.9,137.3 L680.5,137.4 L682.0,137.4 L683.5,137.5 L685.0,137.5 L686.5,137.5 L688.0,137.5 L689.5,137.5 L691.0,137.6 L692.6,137.7 L694.1,137.8 L695.6,137.8 L697.1,137.9 L698.6,137.9 L700.2,137.9 L701.7,138.0 L703.3,138.0 L704.9,138.1 L706.5,138.1 L708.1,138.1 L709.7,138.3 L711.3,138.5 L712.9,138.5 L714.5,138.3 L716.1,138.3 L717.7,138.5 L719.3,138.9 L720.9,139.2 L722.5,139.1 L724.0,138.9 L725.6,138.7 L727.1,138.7 L728.5,138.7 L730.0,138.7 L731.4,138.6 L732.8,138.7 L734.2,138.9 L735.7,139.1 L737.1,139.3 L738.7,139.3 L740.3,139.3 L741.9,139.3 L743.5,139.4 L745.1,139.4 L746.7,139.5 L748.2,139.5 L749.7,139.6 L751.2,139.6 L752.6,139.6 L754.0,139.6 L755.4,139.6 L756.9,139.6 L758.3,139.6 L759.8,139.7 L761.2,139.9 L762.5,140.3 L763.9,140.6 L765.2,140.7 L766.5,140.6 L767.8,140.4 L769.1,140.4 L770.5,140.5 L771.9,140.8 L773.4,141.0 L774.9,141.0 L776.5,140.9 L778.2,141.0 L780.0,141.2 L781.8,141.2 L783.5,141.2 L785.2,141.2 L786.8,141.4 L788.3,141.7 L789.7,141.8 L791.0,141.8 L792.4,141.7 L793.7,141.7 L795.1,141.7 L796.5,141.8 L797.9,141.8 L799.3,141.9 L800.8,141.9 L802.3,142.0 L803.8,142.1 L805.3,142.1 L806.9,142.2 L808.5,142.2 L810.1,142.1 L811.7,141.9 L813.3,141.9 L814.9,142.2 L816.5,142.5 L818.2,142.3 L819.8,142.0 L821.5,141.8 L823.1,142.1 L824.8,142.6 L826.4,142.9 L828.0,143.0 L829.7,143.1 L831.3,143.3 L832.9,143.3 L834.5,143.0 L836.1,142.6 L837.7,142.3 L839.3,142.4 L840.8,142.7 L842.4,142.9 L843.9,142.9 L845.4,142.9 L846.9,143.0 L848.5,143.0 L850.0,143.1 L851.5,143.2 L853.0,143.2 L854.5,143.3 L856.1,143.3 L857.6,143.4 L859.1,143.6 L860.6,143.5 L862.1,143.2 L863.6,142.8 L865.1,142.7 L866.7,143.0 L868.2,143.5 L869.7,143.9 L871.2,143.9 L872.7,143.7 L874.2,143.7 L875.8,143.9 L877.3,144.0 L878.8,143.8 L880.3,143.5 L881.8,143.6 L883.3,144.0 L884.8,144.4 L886.4,144.4 L887.9,144.1 L889.4,143.8 L890.9,143.7 L892.4,143.9 L893.9,144.2 L895.5,144.3 L897.0,144.3 L898.5,144.2 L900.0,144.2 L901.5,144.2 L903.0,144.2 L904.5,144.2 L905.9,144.2 L907.4,144.1 L908.9,144.3 L910.3,144.6 L911.8,145.0 L913.3,145.1 L914.7,144.9 L916.2,144.5 L917.6,144.4 L919.1,144.6 L920.5,144.9 L922.0,144.9 L923.4,144.5 L924.9,144.1 L926.4,143.9 L927.9,144.0 L929.3,144.0 L930.8,143.8 L932.3,143.6 L933.8,143.9 L935.4,144.8 L936.9,145.8 L938.4,146.3 L940.0,145.9 L941.6,145.2 L943.2,144.8 L944.8,144.7 L946.4,144.8 L948.0,144.8 L949.6,144.8 L951.2,144.8 L952.8,144.9 L954.4,145.0 L956.0,145.0 L957.5,145.0 L959.1,144.9 L960.6,144.9 L962.1,145.3 L963.7,145.9 L965.3,146.2 L967.0,145.8 L968.6,145.0 L970.3,144.5 L972.0,144.6 L973.7,144.9 L975.4,144.8 L977.2,144.9 L979.0,145.7 L980.7,146.5 L982.5,146.3 L984.3,145.0 L986.1,144.1 L987.8,144.6 L989.6,145.7 L991.4,146.1 L993.1,145.7 L994.9,145.4 L996.6,145.4 L998.3,145.6 L1000.0,145.7 L1001.7,145.7 L1003.4,145.7 L1005.0,145.8 L1006.6,145.9 L1008.2,145.9 L1009.7,145.7 L1011.2,145.3 L1012.6,144.8 L1014.1,144.8 L1015.4,145.2 L1016.8,145.8 L1018.0,146.3 L1019.3,146.3 L1020.4,146.3 L1021.5,146.3 L1022.6,146.6 L1023.6,147.0 L1024.6,147.4 L1025.5,147.6 L1026.4,147.4" fill="none" stroke="#1A6FDF" stroke-width="2.9" stroke-linejoin="round" stroke-linecap="round"/>
<path d="M124.6,587.3 L125.8,587.9 L127.0,588.6 L128.2,589.2 L129.6,589.9 L131.0,590.7 L132.4,591.5 L133.9,592.3 L135.3,593.2 L136.8,594.0 L138.2,594.9 L139.6,595.7 L141.1,596.6 L142.5,597.4 L144.0,598.2 L145.4,598.9 L146.9,599.6 L148.4,600.1 L150.0,600.6 L151.5,601.1 L153.1,601.5 L154.6,601.8 L156.2,602.2 L157.7,602.6 L159.3,603.0 L160.8,603.4 L162.3,603.9 L163.8,604.3 L165.3,604.8 L166.8,605.2 L168.3,605.8 L169.8,606.3 L171.2,606.8 L172.7,607.4 L174.2,608.1 L175.6,608.8 L177.1,609.6 L178.5,610.3 L179.9,611.2 L181.3,612.0 L182.7,612.9 L184.1,613.7 L185.4,614.6 L186.8,615.4 L188.2,616.3 L189.6,617.1 L191.1,617.9 L192.5,618.7 L193.9,619.4 L195.3,620.2 L196.7,620.9 L198.1,621.5 L199.6,622.1 L201.0,622.7 L202.4,623.3 L203.9,623.8 L205.3,624.3 L206.8,624.8 L208.3,625.2 L209.8,625.7 L211.4,626.0 L213.0,626.4 L214.6,626.7 L216.2,627.0 L217.8,627.3 L219.5,627.5 L221.1,627.6 L222.8,627.7 L224.4,627.8 L226.1,627.8 L227.7,627.8 L229.3,627.7 L230.9,627.5 L232.5,627.2 L234.0,626.9 L235.5,626.4 L237.0,625.9 L238.3,625.2 L239.6,624.4 L240.9,623.6 L242.0,622.6 L243.1,621.5 L244.2,620.4 L245.1,619.2 L246.0,618.0 L246.9,616.7 L247.7,615.4 L248.5,614.1 L249.3,612.7 L250.0,611.3 L250.8,609.8 L251.4,608.4 L252.1,607.0 L252.7,605.6 L253.3,604.2 L253.8,602.8 L254.4,601.5 L254.9,600.1 L255.4,598.7 L255.9,597.2 L256.4,595.7 L256.9,594.2 L257.4,592.7 L257.8,591.2 L258.3,589.8 L258.7,588.3 L259.1,586.9 L259.5,585.5 L259.9,584.1 L260.4,582.7 L260.8,581.2 L261.2,579.7 L261.6,578.2 L262.0,576.7 L262.4,575.2 L262.8,573.6 L263.2,572.1 L263.6,570.5 L264.0,568.9 L264.4,567.4 L264.8,565.8 L265.1,564.3 L265.5,562.7 L265.9,561.1 L266.3,559.6 L266.6,558.0 L267.0,556.3 L267.3,554.7 L267.7,553.1 L268.1,551.5 L268.4,549.9 L268.7,548.3 L269.1,546.7 L269.4,545.2 L269.8,543.7 L270.1,542.2 L270.4,540.8 L270.7,539.4 L271.0,538.0 L271.4,536.6 L271.7,535.4 L272.0,534.2 L272.3,533.0 L272.5,531.8 L272.8,530.6 L273.1,529.3 L273.5,527.9 L273.8,526.4 L274.1,524.7 L274.5,523.0 L274.8,521.4 L275.1,519.8 L275.4,518.3 L275.6,517.0 L275.9,515.7 L276.1,514.4 L276.3,513.1 L276.5,511.9 L276.7,510.6 L277.0,509.2 L277.2,507.8 L277.4,506.4 L277.7,505.0 L277.9,503.5 L278.1,502.0 L278.4,500.5 L278.6,498.9 L278.9,497.4 L279.2,495.8 L279.4,494.2 L279.7,492.6 L280.0,490.9 L280.2,489.3 L280.5,487.7 L280.8,486.0 L281.1,484.3 L281.3,482.7 L281.6,481.0 L281.9,479.3 L282.2,477.7 L282.5,476.0 L282.8,474.4 L283.1,472.7 L283.3,471.1 L283.6,469.5 L283.9,467.8 L284.2,466.3 L284.5,464.7 L284.8,463.1 L285.1,461.6 L285.4,460.0 L285.7,458.5 L286.0,456.9 L286.3,455.4 L286.6,453.8 L287.0,452.3 L287.3,450.7 L287.6,449.1 L288.0,447.5 L288.3,445.9 L288.6,444.3 L289.0,442.7 L289.3,441.0 L289.7,439.4 L290.0,437.8 L290.4,436.2 L290.7,434.6 L291.1,433.0 L291.5,431.4 L291.8,429.8 L292.2,428.2 L292.5,426.6 L292.9,425.0 L293.2,423.4 L293.6,421.9 L293.9,420.4 L294.3,418.8 L294.6,417.3 L295.0,415.9 L295.3,414.4 L295.6,413.0 L295.9,411.6 L296.3,410.2 L296.6,408.8 L296.9,407.5 L297.2,406.1 L297.5,404.8 L297.8,403.5 L298.1,402.1 L298.5,400.7 L298.8,399.1 L299.2,397.5 L299.6,395.8 L300.0,394.1 L300.4,392.4 L300.8,390.7 L301.2,389.1 L301.6,387.5 L302.0,386.1 L302.3,384.6 L302.7,383.3 L303.0,381.9 L303.4,380.6 L303.7,379.3 L304.0,378.0 L304.4,376.7 L304.7,375.4 L305.0,374.1 L305.4,372.7 L305.8,371.3 L306.1,369.9 L306.5,368.4 L306.9,367.0 L307.2,365.5 L307.6,364.0 L308.0,362.5 L308.4,361.0 L308.8,359.5 L309.1,358.0 L309.5,356.5 L309.9,355.0 L310.3,353.5 L310.7,352.0 L311.0,350.5 L311.4,349.0 L311.8,347.5 L312.2,346.0 L312.6,344.5 L312.9,343.0 L313.3,341.5 L313.7,340.0 L314.1,338.4 L314.5,336.9 L314.9,335.4 L315.3,333.8 L315.7,332.2 L316.1,330.7 L316.5,329.1 L316.9,327.5 L317.3,326.0 L317.7,324.4 L318.1,322.9 L318.5,321.4 L318.9,319.8 L319.2,318.4 L319.6,316.9 L320.0,315.4 L320.3,314.0 L320.7,312.5 L321.0,311.1 L321.4,309.5 L321.7,308.0 L322.1,306.4 L322.4,304.8 L322.7,303.3 L323.0,301.7 L323.3,300.2 L323.6,298.7 L323.9,297.3 L324.3,295.8 L324.6,294.4 L324.9,292.9 L325.3,291.5 L325.7,290.0 L326.1,288.6 L326.5,287.1 L326.9,285.7 L327.4,284.2 L327.9,282.8 L328.3,281.3 L328.8,279.9 L329.3,278.4 L329.8,277.0 L330.3,275.5 L330.9,274.1 L331.4,272.7 L331.9,271.3 L332.4,269.9 L333.0,268.4 L333.5,267.0 L334.1,265.6 L334.6,264.2 L335.2,262.8 L335.7,261.4 L336.3,260.0 L336.9,258.6 L337.5,257.2 L338.1,255.8 L338.7,254.5 L339.3,253.1 L340.0,251.7 L340.6,250.2 L341.3,248.8 L341.9,247.4 L342.6,246.0 L343.3,244.5 L344.0,243.1 L344.7,241.7 L345.4,240.3 L346.2,238.9 L346.9,237.5 L347.6,236.2 L348.4,234.8 L349.2,233.4 L350.0,232.0 L350.9,230.6 L351.7,229.2 L352.6,227.8 L353.5,226.5 L354.4,225.1 L355.3,223.8 L356.3,222.5 L357.2,221.2 L358.2,219.9 L359.2,218.6 L360.3,217.3 L361.3,216.1 L362.4,214.8 L363.5,213.6 L364.5,212.4 L365.6,211.2 L366.7,210.0 L367.8,208.8 L368.9,207.7 L370.0,206.5 L371.1,205.4 L372.2,204.3 L373.3,203.2 L374.4,202.1 L375.6,201.1 L376.8,200.1 L378.0,199.2 L379.2,198.3 L380.4,197.4 L381.7,196.5 L383.0,195.6 L384.3,194.7 L385.6,193.9 L387.0,193.0 L388.3,192.1 L389.7,191.3 L391.1,190.4 L392.5,189.6 L393.9,188.8 L395.3,188.0 L396.7,187.1 L398.1,186.4 L399.5,185.6 L400.9,184.8 L402.3,184.1 L403.7,183.4 L405.1,182.7 L406.6,182.0 L408.1,181.4 L409.6,180.7 L411.1,180.1 L412.7,179.5 L414.3,178.9 L415.9,178.4 L417.5,178.0 L419.1,177.6 L420.7,177.3 L422.2,177.0 L423.8,176.8 L425.3,176.6 L426.8,176.4 L428.3,176.1 L429.8,175.7 L431.3,175.1 L432.8,174.6 L434.3,174.2 L435.8,173.8 L437.4,173.2 L439.0,172.5 L440.6,171.8 L442.2,171.2 L443.8,170.8 L445.4,170.5 L447.0,170.0 L448.7,169.5 L450.3,169.2 L451.9,168.9 L453.5,168.6 L455.1,168.2 L456.7,167.7 L458.3,167.4 L459.9,167.1 L461.6,166.9 L463.2,166.6 L464.8,166.1 L466.4,165.7 L468.0,165.4 L469.5,165.2 L471.1,165.0 L472.7,164.9 L474.2,164.7 L475.9,164.6 L477.5,164.4 L479.1,164.3 L480.6,164.1 L482.2,163.9 L483.7,163.7 L485.1,163.5 L486.6,163.4 L488.2,163.2 L489.7,163.1 L491.3,162.9 L492.9,162.6 L494.6,162.4 L496.3,162.2 L497.9,161.9 L499.6,161.6 L501.3,161.4 L502.9,161.2 L504.5,161.1 L506.1,160.9 L507.7,160.7 L509.3,160.3 L510.8,160.1 L512.4,160.0 L513.9,160.1 L515.4,160.0 L517.0,159.7 L518.5,159.3 L520.1,159.0 L521.6,158.8 L523.2,158.7 L524.7,158.5 L526.2,158.3 L527.8,158.2 L529.3,158.1 L530.9,158.0 L532.4,157.8 L533.9,157.5 L535.5,157.2 L537.0,157.0 L538.6,156.9 L540.1,156.8 L541.6,156.7 L543.2,156.5 L544.7,156.4 L546.3,156.2 L547.8,156.1 L549.3,156.0 L550.9,155.8 L552.4,155.6 L554.0,155.4 L555.5,155.3 L557.1,155.2 L558.6,155.1 L560.1,154.8 L561.7,154.6 L563.2,154.3 L564.8,154.2 L566.3,154.1 L567.9,154.0 L569.4,153.8 L571.0,153.4 L572.5,153.2 L574.1,152.9 L575.6,152.6 L577.2,152.2 L578.7,151.8 L580.3,151.6 L581.8,151.7 L583.4,151.8 L585.0,151.7 L586.6,151.4 L588.2,151.0 L589.8,150.6 L591.5,150.5 L593.2,150.3 L594.8,150.1 L596.5,150.0 L598.2,149.8 L599.8,149.7 L601.4,149.6 L602.9,149.3 L604.5,149.1 L605.9,148.9 L607.4,148.8 L608.8,148.7 L610.3,148.5 L611.8,148.4 L613.3,148.3 L614.8,148.2 L616.3,148.1 L617.8,148.0 L619.3,148.0 L620.8,147.9 L622.3,147.8 L623.7,147.8 L625.2,147.7 L626.6,147.7 L628.2,147.6 L629.7,147.4 L631.3,147.1 L632.9,147.0 L634.6,147.0 L636.3,147.3 L637.9,147.4 L639.6,147.3 L641.3,147.1 L642.9,146.9 L644.5,146.8 L646.1,146.5 L647.7,146.2 L649.3,146.0 L650.8,146.0 L652.4,146.1 L653.9,146.1 L655.4,145.9 L657.0,145.7 L658.5,145.5 L660.1,145.4 L661.6,145.3 L663.2,145.2 L664.7,145.1 L666.2,145.0 L667.8,144.8 L669.3,144.7 L670.9,144.6 L672.4,144.5 L673.9,144.4 L675.5,144.3 L677.0,144.2 L678.6,144.1 L680.1,144.0 L681.6,143.9 L683.2,143.7 L684.7,143.5 L686.3,143.3 L687.8,143.2 L689.4,143.1 L690.9,143.1 L692.4,143.0 L694.0,142.9 L695.5,142.9 L697.0,142.8 L698.6,142.5 L700.1,142.2 L701.6,141.9 L703.1,141.8 L704.5,141.9 L706.0,142.1 L707.5,142.1 L709.0,142.0 L710.4,141.8 L711.9,141.7 L713.5,141.8 L715.0,141.8 L716.5,141.8 L718.1,141.6 L719.7,141.5 L721.3,141.4 L722.9,141.4 L724.5,141.3 L726.0,141.1 L727.6,141.0 L729.1,141.0 L730.6,141.0 L732.1,141.0 L733.6,141.0 L735.2,140.9 L736.8,140.8 L738.4,140.8 L740.0,140.7 L741.6,140.7 L743.2,140.6 L744.8,140.6 L746.4,140.6 L748.0,140.7 L749.6,140.7 L751.1,140.7 L752.7,140.5 L754.2,140.4 L755.7,140.3 L757.2,140.4 L758.7,140.5 L760.2,140.5 L761.7,140.3 L763.1,140.2 L764.5,140.2 L765.9,140.2 L767.3,140.2 L768.6,140.1 L769.9,139.9 L771.3,139.8 L772.6,139.8 L774.0,139.9 L775.4,140.0 L777.0,139.8 L778.6,139.4 L780.2,139.0 L781.9,139.1 L783.6,139.5 L785.3,139.7 L786.8,139.8 L788.3,139.8 L789.7,139.7 L791.0,139.7 L792.4,139.7 L793.7,139.6 L795.1,139.5 L796.5,139.5 L797.9,139.5 L799.3,139.5 L800.8,139.6 L802.3,139.6 L803.8,139.6 L805.3,139.6 L806.9,139.5 L808.5,139.5 L810.1,139.5 L811.7,139.5 L813.3,139.5 L814.9,139.4 L816.5,139.4 L818.2,139.5 L819.8,139.5 L821.5,139.4 L823.1,139.3 L824.8,139.4 L826.4,139.8 L828.0,140.2 L829.7,140.2 L831.3,139.8 L832.9,139.3 L834.5,139.2 L836.1,139.4 L837.7,139.7 L839.3,139.8 L840.8,139.9 L842.4,140.1 L843.9,140.3 L845.4,140.3 L846.9,139.9 L848.5,139.3 L850.0,138.9 L851.5,139.0 L853.0,139.3 L854.5,139.6 L856.1,139.6 L857.6,139.6 L859.1,139.6 L860.6,139.6 L862.1,139.6 L863.6,139.6 L865.1,139.6 L866.7,139.6 L868.2,139.6 L869.7,139.6 L871.2,139.7 L872.7,139.7 L874.2,139.6 L875.8,139.5 L877.3,139.5 L878.8,139.7 L880.3,140.0 L881.8,140.1 L883.3,140.0 L884.8,139.7 L886.4,139.4 L887.9,139.3 L889.4,139.1 L890.9,138.8 L892.4,138.5 L893.9,138.7 L895.5,139.5 L897.0,140.4 L898.5,140.7 L900.0,140.2 L901.5,139.3 L903.0,138.7 L904.5,138.8 L905.9,139.2 L907.4,139.5 L908.9,139.6 L910.3,139.7 L911.8,139.9 L913.3,140.2 L914.7,140.3 L916.2,140.2 L917.6,139.8 L919.1,139.6 L920.5,139.5 L922.0,139.7 L923.4,139.8 L924.9,139.8 L926.4,139.6 L927.9,139.5 L929.3,139.5 L930.8,139.6 L932.3,139.6 L933.8,139.7 L935.4,139.7 L936.9,139.7 L938.4,139.7 L940.0,139.8 L941.6,139.8 L943.2,139.5 L944.8,139.1 L946.4,139.0 L948.0,139.5 L949.6,140.6 L951.2,141.2 L952.8,141.2 L954.4,140.6 L956.0,140.2 L957.5,140.1 L959.1,139.9 L960.6,139.4 L962.1,138.9 L963.7,139.0 L965.3,139.8 L967.0,140.6 L968.6,140.5 L970.3,139.5 L972.0,138.8 L973.7,139.2 L975.4,140.1 L977.2,140.4 L979.0,140.0 L980.7,139.5 L982.5,139.6 L984.3,140.0 L986.1,140.1 L987.8,140.2 L989.6,140.3 L991.4,140.5 L993.1,140.5 L994.9,140.4 L996.6,140.2 L998.3,140.0 L1000.0,140.0 L1001.7,140.2 L1003.4,140.4 L1005.0,140.5 L1006.6,140.5 L1008.2,140.6 L1009.7,140.7 L1011.2,140.5 L1012.6,139.9 L1014.1,139.0 L1015.4,138.6 L1016.8,138.9 L1018.0,139.9 L1019.3,140.9 L1020.4,141.4 L1021.5,141.3 L1022.6,140.8 L1023.6,140.2 L1024.6,140.0 L1025.5,140.2 L1026.4,140.8" fill="none" stroke="#37AD6B" stroke-width="2.9" stroke-linejoin="round" stroke-linecap="round"/>
</g>
<g id="ticklabels" class="b" font-size="46">
<text transform="translate(103,682.0) scale(0.947,1)" text-anchor="end">0</text>
<text transform="translate(103,554.3) scale(0.947,1)" text-anchor="end">20</text>
<text transform="translate(103,426.6) scale(0.947,1)" text-anchor="end">40</text>
<text transform="translate(103,298.8) scale(0.947,1)" text-anchor="end">60</text>
<text transform="translate(103,171.1) scale(0.947,1)" text-anchor="end">80</text>
<text transform="translate(103,43.4) scale(0.947,1)" text-anchor="end">100</text>
<text transform="translate(124.6,724.8) scale(0.947,1)" text-anchor="middle">200</text>
<text transform="translate(274.8,724.8) scale(0.947,1)" text-anchor="middle">300</text>
<text transform="translate(425.1,724.8) scale(0.947,1)" text-anchor="middle">400</text>
<text transform="translate(575.3,724.8) scale(0.947,1)" text-anchor="middle">500</text>
<text transform="translate(725.5,724.8) scale(0.947,1)" text-anchor="middle">600</text>
<text transform="translate(875.8,724.8) scale(0.947,1)" text-anchor="middle">700</text>
<text transform="translate(1026.0,724.8) scale(0.947,1)" text-anchor="middle">800</text>
</g>
<text class="b" font-size="43.8" transform="translate(607.8,777.3) scale(0.99,1)" text-anchor="middle">Wavelength (nm)</text>
<text class="b" font-size="43.8" transform="translate(39.6,333) rotate(-90) scale(0.99,1)" text-anchor="middle">Reflectance (%)</text>
<g id="labels">
<text x="192.6" y="117.4" font-size="40" letter-spacing="-0.1"><tspan dy="0.00" font-size="40">Lu</tspan><tspan dy="10.72" font-size="29">2</tspan><tspan dy="-10.72" font-size="40">W</tspan><tspan dy="10.72" font-size="29">3</tspan><tspan dy="-10.72" font-size="40">O</tspan><tspan dy="10.72" font-size="29" dx="1.30" letter-spacing="-1.50">12</tspan><tspan dy="-10.72" font-size="40" dx="1.70">:5 mol%Tb</tspan><tspan dy="-16.20" font-size="29">3+</tspan></text>
<text x="762.6" y="86.5" font-size="40" letter-spacing="-0.2"><tspan dy="0.00" font-size="40">Lu</tspan><tspan dy="10.72" font-size="29">2</tspan><tspan dy="-10.72" font-size="40">W</tspan><tspan dy="10.72" font-size="29">3</tspan><tspan dy="-10.72" font-size="40">O</tspan><tspan dy="10.72" font-size="29" dx="1.30" letter-spacing="-1.50">12</tspan></text>
<text x="537.3" y="221.1" font-size="40" letter-spacing="-0.1"><tspan dy="0.00" font-size="40">Lu</tspan><tspan dy="10.72" font-size="29">2</tspan><tspan dy="-10.72" font-size="40">Mo</tspan><tspan dy="10.72" font-size="29">3</tspan><tspan dy="-10.72" font-size="40">O</tspan><tspan dy="10.72" font-size="29" dx="1.30" letter-spacing="-1.50">12</tspan><tspan dy="-10.72" font-size="40" dx="1.70">:5 mol%Tb</tspan><tspan dy="-16.20" font-size="29">3+</tspan></text>
<text x="372.6" y="274.0" font-size="40" letter-spacing="-0.1"><tspan dy="0.00" font-size="40">Lu</tspan><tspan dy="10.72" font-size="29">2</tspan><tspan dy="-10.72" font-size="40">Mo</tspan><tspan dy="10.72" font-size="29">3</tspan><tspan dy="-10.72" font-size="40">O</tspan><tspan dy="10.72" font-size="29" dx="1.30" letter-spacing="-1.50">12</tspan></text>
</g>
<g id="arrows">
<line x1="313.3" y1="128.3" x2="369.3" y2="163.9" stroke="#FF0000" stroke-width="2.8"/><polygon points="383.7,173.0 364.7,167.5 370.7,158.1" fill="#FF0000" stroke="#FF0000" stroke-width="0.9" stroke-linejoin="round"/>
<line x1="915.2" y1="109.6" x2="938.8" y2="150.0" stroke="#000000" stroke-width="3.4"/><polygon points="946.4,163.0 933.5,150.8 942.1,145.8" fill="#000000" stroke="#000000" stroke-width="0.9" stroke-linejoin="round"/>
<line x1="538.0" y1="200.3" x2="463.7" y2="177.1" stroke="#089408" stroke-width="2.8"/><polygon points="447.5,172.0 467.3,172.3 464.0,183.0" fill="#089408" stroke="#089408" stroke-width="0.9" stroke-linejoin="round"/>
<line x1="398.3" y1="285.6" x2="340.7" y2="318.6" stroke="#0000FF" stroke-width="2.8"/><polygon points="326.0,327.1 339.7,312.8 345.3,322.5" fill="#0000FF" stroke="#0000FF" stroke-width="0.9" stroke-linejoin="round"/>
</g>
<g id="inset">
<rect x="584.0" y="304.1" width="410.0" height="301.1" fill="#fff"/>
<g stroke="#000" fill="none">
<rect x="584.0" y="304.1" width="410.0" height="301.1" stroke-width="3.6"/>
<line x1="577.8" y1="605.2" x2="584.0" y2="605.2" stroke-width="3"/>
<line x1="580.1" y1="575.1" x2="584.0" y2="575.1" stroke-width="3"/>
<line x1="577.8" y1="545.0" x2="584.0" y2="545.0" stroke-width="3"/>
<line x1="580.1" y1="514.9" x2="584.0" y2="514.9" stroke-width="3"/>
<line x1="577.8" y1="484.8" x2="584.0" y2="484.8" stroke-width="3"/>
<line x1="580.1" y1="454.7" x2="584.0" y2="454.7" stroke-width="3"/>
<line x1="577.8" y1="424.5" x2="584.0" y2="424.5" stroke-width="3"/>
<line x1="580.1" y1="394.4" x2="584.0" y2="394.4" stroke-width="3"/>
<line x1="577.8" y1="364.3" x2="584.0" y2="364.3" stroke-width="3"/>
<line x1="580.1" y1="334.2" x2="584.0" y2="334.2" stroke-width="3"/>
<line x1="577.8" y1="304.1" x2="584.0" y2="304.1" stroke-width="3"/>
<line x1="584.0" y1="605.2" x2="584.0" y2="608.6" stroke-width="3"/>
<line x1="629.6" y1="605.2" x2="629.6" y2="611.0" stroke-width="3"/>
<line x1="675.1" y1="605.2" x2="675.1" y2="608.6" stroke-width="3"/>
<line x1="720.7" y1="605.2" x2="720.7" y2="611.0" stroke-width="3"/>
<line x1="766.2" y1="605.2" x2="766.2" y2="608.6" stroke-width="3"/>
<line x1="811.8" y1="605.2" x2="811.8" y2="611.0" stroke-width="3"/>
<line x1="857.3" y1="605.2" x2="857.3" y2="608.6" stroke-width="3"/>
<line x1="902.9" y1="605.2" x2="902.9" y2="611.0" stroke-width="3"/>
<line x1="948.4" y1="605.2" x2="948.4" y2="608.6" stroke-width="3"/>
<line x1="994.0" y1="605.2" x2="994.0" y2="611.0" stroke-width="3"/>
</g>
<path d="M587.9,600.4 L588.5,600.4 L589.2,600.4 L590.0,600.4 L590.8,600.4 L591.6,600.4 L592.5,600.4 L593.4,600.4 L594.4,600.4 L595.4,600.3 L596.4,600.3 L597.5,600.3 L598.7,600.3 L599.8,600.3 L601.0,600.3 L602.2,600.3 L603.5,600.3 L604.7,600.3 L606.0,600.3 L607.3,600.3 L608.6,600.3 L610.0,600.3 L611.4,600.2 L612.7,600.2 L614.1,600.2 L615.5,600.2 L616.9,600.2 L618.3,600.2 L619.7,600.2 L621.2,600.2 L622.6,600.2 L624.0,600.2 L625.4,600.1 L626.8,600.1 L628.2,600.1 L629.6,600.1 L630.9,600.1 L632.3,600.1 L633.6,600.1 L634.9,600.1 L636.2,600.0 L637.5,600.0 L638.8,600.0 L640.0,600.0 L641.2,600.0 L642.5,600.0 L643.7,600.0 L645.0,599.9 L646.2,599.9 L647.5,599.9 L648.8,599.9 L650.1,599.9 L651.4,599.9 L652.7,599.9 L654.0,599.8 L655.3,599.8 L656.6,599.8 L657.9,599.8 L659.2,599.8 L660.5,599.8 L661.8,599.7 L663.2,599.7 L664.5,599.7 L665.8,599.7 L667.1,599.7 L668.4,599.7 L669.6,599.6 L670.9,599.6 L672.2,599.6 L673.4,599.6 L674.7,599.6 L675.9,599.5 L677.1,599.5 L678.3,599.5 L679.5,599.5 L680.7,599.5 L681.9,599.4 L683.0,599.4 L684.2,599.4 L685.3,599.4 L686.3,599.3 L687.4,599.3 L688.5,599.3 L689.5,599.3 L690.5,599.3 L691.5,599.2 L692.4,599.2 L694.1,599.2 L695.7,599.1 L697.3,599.1 L698.7,599.0 L700.1,599.0 L701.4,598.9 L702.7,598.9 L703.9,598.8 L705.1,598.8 L706.3,598.7 L707.4,598.7 L708.5,598.6 L709.5,598.6 L710.6,598.5 L711.6,598.4 L712.7,598.4 L713.7,598.3 L714.8,598.2 L715.8,598.2 L716.9,598.1 L718.0,598.0 L719.2,597.9 L720.4,597.8 L721.6,597.7 L722.9,597.6 L724.1,597.5 L725.4,597.4 L726.6,597.2 L727.9,597.1 L729.1,597.0 L730.4,596.9 L731.6,596.7 L732.9,596.6 L734.2,596.5 L735.4,596.3 L736.7,596.2 L737.9,596.0 L739.1,595.9 L740.4,595.7 L741.6,595.6 L742.8,595.4 L743.9,595.3 L745.1,595.1 L746.3,594.9 L747.4,594.8 L748.5,594.6 L749.8,594.4 L751.1,594.2 L752.4,594.0 L753.7,593.8 L755.0,593.6 L756.2,593.4 L757.4,593.1 L758.7,592.9 L759.9,592.7 L761.0,592.5 L762.2,592.2 L763.4,592.0 L764.5,591.7 L765.6,591.5 L766.7,591.2 L767.8,590.9 L768.9,590.7 L770.0,590.4 L771.0,590.1 L772.3,589.7 L773.5,589.4 L774.7,589.0 L775.9,588.6 L777.1,588.2 L778.2,587.8 L779.3,587.4 L780.3,587.0 L781.4,586.6 L782.5,586.1 L783.5,585.6 L784.6,585.1 L785.7,584.6 L786.8,584.0 L787.9,583.4 L788.9,582.8 L789.9,582.2 L790.9,581.6 L791.9,580.9 L792.9,580.3 L793.9,579.5 L795.0,578.8 L796.0,578.1 L797.0,577.3 L798.0,576.6 L799.0,575.8 L800.0,575.1 L800.9,574.3 L801.9,573.5 L802.8,572.8 L803.8,572.0 L804.7,571.3 L805.7,570.5 L806.7,569.7 L807.7,568.9 L808.7,568.1 L809.6,567.3 L810.5,566.6 L811.5,565.8 L812.4,565.0 L813.3,564.2 L814.2,563.3 L815.1,562.5 L816.0,561.6 L816.9,560.7 L817.9,559.7 L818.8,558.7 L819.5,557.9 L820.3,557.0 L821.1,556.1 L821.9,555.2 L822.6,554.2 L823.4,553.2 L824.2,552.3 L825.0,551.3 L825.8,550.2 L826.5,549.2 L827.3,548.2 L828.1,547.2 L828.8,546.2 L829.5,545.2 L830.2,544.2 L830.9,543.2 L831.6,542.2 L832.2,541.3 L832.8,540.4 L833.6,539.2 L834.3,538.0 L835.0,536.8 L835.7,535.6 L836.3,534.5 L836.9,533.3 L837.5,532.2 L838.1,531.1 L838.6,530.0 L839.1,528.9 L839.7,527.9 L840.2,526.9 L840.7,525.9 L841.2,524.9 L841.9,523.6 L842.6,522.5 L843.2,521.4 L843.8,520.4 L844.3,519.4 L844.9,518.4 L845.5,517.4 L846.1,516.3 L846.7,515.1 L847.3,513.7 L847.7,512.7 L848.2,511.7 L848.6,510.6 L849.1,509.5 L849.6,508.4 L850.0,507.2 L850.5,506.1 L851.0,504.9 L851.4,503.6 L851.9,502.4 L852.4,501.1 L852.9,499.9 L853.4,498.6 L853.8,497.3 L854.3,496.0 L854.7,494.9 L855.1,493.8 L855.5,492.7 L855.9,491.6 L856.3,490.4 L856.7,489.2 L857.1,488.1 L857.5,486.9 L857.8,485.7 L858.2,484.5 L858.6,483.3 L859.0,482.1 L859.4,480.9 L859.8,479.7 L860.2,478.5 L860.6,477.4 L861.0,476.2 L861.4,475.0 L861.8,473.8 L862.2,472.6 L862.6,471.5 L863.0,470.3 L863.4,469.1 L863.8,467.9 L864.2,466.6 L864.6,465.4 L865.0,464.2 L865.4,463.1 L865.8,461.9 L866.2,460.7 L866.6,459.5 L866.9,458.4 L867.3,457.3 L867.7,456.2 L868.0,455.1 L868.4,454.0 L868.8,452.6 L869.3,451.3 L869.7,449.9 L870.2,448.5 L870.6,447.2 L871.0,445.9 L871.4,444.6 L871.8,443.3 L872.2,442.1 L872.6,441.0 L873.0,439.9 L873.3,438.8 L873.7,437.9 L874.0,437.0 L874.7,435.3 L875.2,434.0 L875.7,433.0 L876.2,432.1 L876.7,431.3 L877.2,430.5 L878.0,429.3 L878.8,428.2 L879.6,427.2 L880.6,426.2 L881.5,425.3 L882.6,424.4 L883.7,423.5 L884.9,422.7 L886.2,422.0 L887.3,421.5 L888.5,421.0 L889.7,420.6 L891.0,420.2 L892.3,419.9 L893.7,419.6 L894.9,419.4 L896.2,419.2 L897.6,419.1 L898.9,419.0 L900.3,419.0 L901.7,419.0 L903.0,419.0 L904.4,419.1 L905.7,419.3 L907.1,419.5 L908.5,419.7 L909.8,420.0 L911.1,420.3 L912.4,420.6 L913.8,421.0 L915.0,421.5 L916.2,422.0 L917.4,422.6 L918.7,423.1 L920.1,423.6 L921.2,424.0 L922.4,424.3 L923.6,424.7 L924.8,425.1 L926.1,425.4 L927.4,425.8 L928.8,426.0 L930.2,426.3 L931.4,426.5 L932.6,426.6 L933.8,426.7 L935.1,426.8 L936.4,426.9 L937.7,427.0 L939.0,427.1 L940.3,427.1 L941.6,427.2 L942.8,427.3 L944.1,427.4 L945.4,427.5 L946.7,427.6 L947.9,427.6 L949.1,427.7 L950.4,427.8 L951.6,427.9 L952.8,427.9 L954.1,428.0 L955.4,428.1 L956.7,428.2 L958.0,428.2 L959.4,428.3 L960.7,428.4 L962.0,428.5 L963.2,428.5 L964.4,428.5 L965.5,428.5 L966.9,428.4 L968.1,428.2 L969.2,428.0 L970.3,427.7 L971.5,427.6 L973.0,427.5 L974.1,427.5 L975.3,427.6 L976.7,427.8 L978.1,428.0 L979.5,428.1 L980.9,428.3 L982.3,428.5 L983.6,428.6 L984.7,428.7 L985.7,428.7 L987.5,428.5 L988.8,428.1 L989.8,427.6 L990.7,427.2 L992.3,426.9 L993.2,426.8" fill="none" stroke="#4D4D4D" stroke-width="3.3" stroke-linejoin="round" stroke-linecap="round"/>
<path d="M587.9,600.0 L588.5,600.0 L589.2,600.0 L590.0,600.0 L590.8,600.0 L591.6,600.0 L592.5,600.0 L593.4,600.0 L594.4,600.0 L595.4,599.9 L596.4,599.9 L597.5,599.9 L598.7,599.9 L599.8,599.9 L601.0,599.9 L602.2,599.9 L603.5,599.9 L604.7,599.9 L606.0,599.9 L607.3,599.9 L608.6,599.9 L610.0,599.9 L611.4,599.8 L612.7,599.8 L614.1,599.8 L615.5,599.8 L616.9,599.8 L618.3,599.8 L619.7,599.8 L621.2,599.8 L622.6,599.8 L624.0,599.8 L625.4,599.7 L626.8,599.7 L628.2,599.7 L629.6,599.7 L630.9,599.7 L632.3,599.7 L633.6,599.7 L634.9,599.7 L636.2,599.6 L637.5,599.6 L638.8,599.6 L640.0,599.6 L641.2,599.6 L642.5,599.6 L643.7,599.6 L645.0,599.5 L646.2,599.5 L647.5,599.5 L648.8,599.5 L650.1,599.5 L651.4,599.5 L652.7,599.5 L654.0,599.4 L655.3,599.4 L656.6,599.4 L657.9,599.4 L659.2,599.4 L660.5,599.4 L661.8,599.3 L663.2,599.3 L664.5,599.3 L665.8,599.3 L667.1,599.3 L668.4,599.3 L669.6,599.2 L670.9,599.2 L672.2,599.2 L673.4,599.2 L674.7,599.2 L675.9,599.1 L677.1,599.1 L678.3,599.1 L679.5,599.1 L680.7,599.1 L681.9,599.0 L683.0,599.0 L684.2,599.0 L685.3,599.0 L686.3,598.9 L687.4,598.9 L688.5,598.9 L689.5,598.9 L690.5,598.9 L691.5,598.8 L692.4,598.8 L694.1,598.8 L695.7,598.7 L697.3,598.7 L698.7,598.6 L700.1,598.6 L701.4,598.6 L702.7,598.5 L703.9,598.5 L705.1,598.4 L706.3,598.4 L707.4,598.3 L708.5,598.3 L709.5,598.2 L710.6,598.2 L711.6,598.1 L712.7,598.1 L713.7,598.0 L714.8,597.9 L715.8,597.8 L716.9,597.7 L718.0,597.6 L719.2,597.5 L720.4,597.4 L721.6,597.3 L722.9,597.1 L724.1,597.0 L725.4,596.8 L726.6,596.7 L727.9,596.5 L729.1,596.4 L730.4,596.2 L731.6,596.0 L732.9,595.8 L734.2,595.6 L735.4,595.4 L736.7,595.2 L737.9,595.0 L739.1,594.8 L740.4,594.6 L741.6,594.4 L742.8,594.2 L743.9,593.9 L745.1,593.7 L746.3,593.5 L747.4,593.2 L748.5,593.0 L749.8,592.7 L751.1,592.4 L752.4,592.1 L753.7,591.8 L755.0,591.5 L756.2,591.1 L757.4,590.8 L758.7,590.5 L759.9,590.1 L761.0,589.8 L762.2,589.4 L763.4,589.0 L764.5,588.7 L765.6,588.3 L766.7,587.9 L767.8,587.5 L768.9,587.1 L770.0,586.6 L771.0,586.2 L772.2,585.7 L773.4,585.1 L774.5,584.6 L775.6,584.1 L776.7,583.5 L777.7,583.0 L778.7,582.4 L779.7,581.8 L780.7,581.2 L781.7,580.5 L782.7,579.9 L783.7,579.2 L784.8,578.5 L785.8,577.8 L786.8,577.0 L787.9,576.2 L788.8,575.5 L789.7,574.8 L790.6,574.1 L791.5,573.4 L792.4,572.6 L793.3,571.8 L794.3,571.0 L795.2,570.2 L796.1,569.4 L797.1,568.5 L798.0,567.7 L798.9,566.8 L799.8,566.0 L800.7,565.1 L801.6,564.2 L802.5,563.4 L803.3,562.5 L804.1,561.7 L804.9,560.8 L805.7,560.0 L806.6,559.0 L807.5,558.1 L808.3,557.1 L809.1,556.1 L810.0,555.1 L810.8,554.2 L811.5,553.2 L812.3,552.2 L813.1,551.2 L813.8,550.2 L814.5,549.3 L815.2,548.3 L815.9,547.3 L816.5,546.3 L817.2,545.2 L817.8,544.2 L818.4,543.2 L819.0,542.1 L819.6,541.0 L820.2,539.9 L820.7,538.8 L821.2,537.7 L821.7,536.5 L822.2,535.4 L822.6,534.3 L823.1,533.1 L823.5,532.0 L823.9,530.8 L824.3,529.7 L824.7,528.5 L825.2,527.4 L825.6,526.2 L826.0,525.0 L826.4,523.9 L826.8,522.8 L827.2,521.7 L827.5,520.6 L827.9,519.5 L828.2,518.4 L828.6,517.3 L828.9,516.2 L829.3,515.0 L829.6,513.9 L829.9,512.7 L830.3,511.6 L830.6,510.4 L830.9,509.1 L831.3,507.9 L831.6,506.6 L832.0,505.3 L832.3,504.2 L832.6,503.1 L832.9,502.0 L833.2,500.8 L833.5,499.7 L833.8,498.5 L834.1,497.3 L834.4,496.1 L834.7,494.9 L835.0,493.7 L835.3,492.4 L835.6,491.2 L835.9,489.9 L836.2,488.7 L836.5,487.4 L836.8,486.2 L837.1,484.9 L837.4,483.7 L837.7,482.5 L838.0,481.2 L838.3,480.0 L838.6,478.8 L838.9,477.7 L839.2,476.5 L839.4,475.3 L839.7,474.1 L840.0,473.0 L840.3,471.8 L840.6,470.6 L840.9,469.4 L841.2,468.2 L841.5,467.0 L841.7,465.9 L842.0,464.7 L842.3,463.5 L842.6,462.3 L842.9,461.1 L843.2,459.9 L843.5,458.7 L843.7,457.6 L844.0,456.4 L844.3,455.2 L844.6,454.0 L844.9,452.8 L845.2,451.6 L845.5,450.4 L845.8,449.2 L846.1,447.9 L846.4,446.7 L846.7,445.4 L847.0,444.2 L847.3,442.9 L847.5,441.7 L847.8,440.4 L848.1,439.2 L848.4,438.0 L848.7,436.8 L849.0,435.6 L849.3,434.4 L849.5,433.3 L849.8,432.2 L850.1,431.1 L850.3,430.0 L850.6,429.0 L850.8,428.0 L851.2,426.5 L851.5,425.0 L851.8,423.6 L852.2,422.2 L852.5,420.8 L852.8,419.5 L853.0,418.2 L853.3,417.0 L853.6,415.9 L853.9,414.8 L854.1,413.7 L854.3,412.7 L854.6,411.8 L854.8,411.0 L855.5,408.8 L856.0,407.4 L856.5,406.5 L857.0,405.5 L857.8,404.2 L858.5,403.1 L859.3,402.0 L860.0,401.0 L860.7,400.0 L861.8,399.0 L862.8,398.4 L863.9,397.8 L865.1,397.2 L866.4,396.6 L867.5,396.2 L868.9,395.7 L870.3,395.5 L872.1,395.5 L873.2,395.6 L874.4,395.8 L875.8,396.1 L877.2,396.4 L878.7,396.7 L880.1,397.0 L881.5,397.2 L882.8,397.4 L884.2,397.7 L885.5,397.9 L886.9,398.1 L888.2,398.3 L889.6,398.5 L890.9,398.6 L892.2,398.7 L893.6,398.8 L894.9,398.9 L896.2,399.0 L897.5,399.0 L898.9,399.0 L900.2,399.0 L901.6,398.9 L903.1,398.8 L904.6,398.6 L906.0,398.4 L907.4,398.1 L908.6,398.0 L909.6,397.8 L911.1,397.7 L912.4,397.2 L913.2,396.9 L914.2,396.4 L915.2,395.9 L916.4,395.4 L917.6,394.8 L918.8,394.2 L920.1,393.6 L921.1,393.1 L922.2,392.6 L923.3,392.0 L924.4,391.5 L925.6,390.9 L926.7,390.4 L927.9,389.8 L929.1,389.3 L930.2,388.9 L931.5,388.4 L932.7,388.0 L933.9,387.6 L935.2,387.3 L936.4,386.9 L937.7,386.6 L939.0,386.3 L940.3,386.0 L941.5,385.7 L942.8,385.5 L944.1,385.3 L945.4,385.1 L946.7,384.9 L948.0,384.7 L949.2,384.4 L950.4,384.2 L951.6,383.9 L953.0,383.5 L954.3,383.0 L955.5,382.5 L956.8,382.0 L958.0,381.5 L959.2,380.9 L960.4,380.4 L961.5,379.9 L962.6,379.5 L963.7,379.0 L964.8,378.5 L966.0,378.0 L967.1,377.5 L968.2,377.1 L969.3,376.6 L970.6,376.1 L971.9,375.6 L973.3,375.1 L974.6,374.6 L975.9,374.1 L977.0,373.6 L978.1,373.0 L979.3,372.2 L980.4,371.3 L981.3,370.5 L982.2,369.5 L983.1,368.4 L983.8,367.5 L984.6,366.5 L985.3,365.4 L986.0,364.3 L986.7,363.3 L987.5,362.3 L988.2,361.4 L989.3,360.3 L990.4,359.4 L991.6,358.6 L992.5,357.9 L993.2,357.4" fill="none" stroke="#0000FF" stroke-width="3.9" stroke-linejoin="round" stroke-linecap="round"/>
<line x1="809.2" y1="605.9" x2="858.2" y2="397.6" stroke="#F68A1E" stroke-width="3.3"/>
<line x1="817.3" y1="605.9" x2="876.2" y2="429.5" stroke="#FF0000" stroke-width="3.5"/>
<g font-size="25.8">
<text x="574.4" y="612.7" text-anchor="end">0</text>
<text x="574.4" y="552.5" text-anchor="end">2</text>
<text x="574.4" y="492.3" text-anchor="end">4</text>
<text x="574.4" y="432.0" text-anchor="end">6</text>
<text x="574.4" y="371.8" text-anchor="end">8</text>
<text x="574.4" y="311.6" text-anchor="end">10</text>
</g><g class="b" font-size="25.5">
<text x="629.6" y="634.6" text-anchor="middle">2</text>
<text x="720.7" y="634.6" text-anchor="middle">3</text>
<text x="811.8" y="634.6" text-anchor="middle">4</text>
<text x="902.9" y="634.6" text-anchor="middle">5</text>
<text x="994.0" y="634.6" text-anchor="middle">6</text>
</g>
<text font-size="33" letter-spacing="0.35" x="804.1" y="656.9" text-anchor="middle">hν (eV)</text>
<text font-size="32" transform="translate(549.7,518.0) rotate(-90)">[F(R)h<tspan font-style="italic">ν</tspan>]<tspan dy="-13.2" font-size="23.5">1/2</tspan></text>
<text x="739.8" y="383.5" font-size="24.2"><tspan dy="0.00" font-size="24.2">Lu</tspan><tspan dy="6.49" font-size="17.5">2</tspan><tspan dy="-6.49" font-size="24.2">Mo</tspan><tspan dy="6.49" font-size="17.5">3</tspan><tspan dy="-6.49" font-size="24.2">O</tspan><tspan dy="6.49" font-size="17.5" dx="0.79" letter-spacing="-0.91">12</tspan></text>
<text x="714.3" y="425.7" font-size="24.2"><tspan dy="0.00" font-size="24.2">Lu</tspan><tspan dy="6.49" font-size="17.5">2</tspan><tspan dy="-6.49" font-size="24.2">W</tspan><tspan dy="6.49" font-size="17.5">3</tspan><tspan dy="-6.49" font-size="24.2">O</tspan><tspan dy="6.49" font-size="17.5" dx="0.79" letter-spacing="-0.91">12</tspan></text>
<line x1="869.3" y1="383.6" x2="898.1" y2="392.7" stroke="#0000FF" stroke-width="3.0"/><polygon points="912.6,397.3 894.6,397.3 897.8,387.0" fill="#0000FF" stroke="#0000FF" stroke-width="0.9" stroke-linejoin="round"/>
<line x1="833.7" y1="418.7" x2="865.7" y2="425.8" stroke="#000000" stroke-width="3.0"/><polygon points="878.6,428.7 862.8,429.6 864.7,421.2" fill="#000000" stroke="#000000" stroke-width="0.9" stroke-linejoin="round"/>
</g>
</g>
</svg></body></html>
